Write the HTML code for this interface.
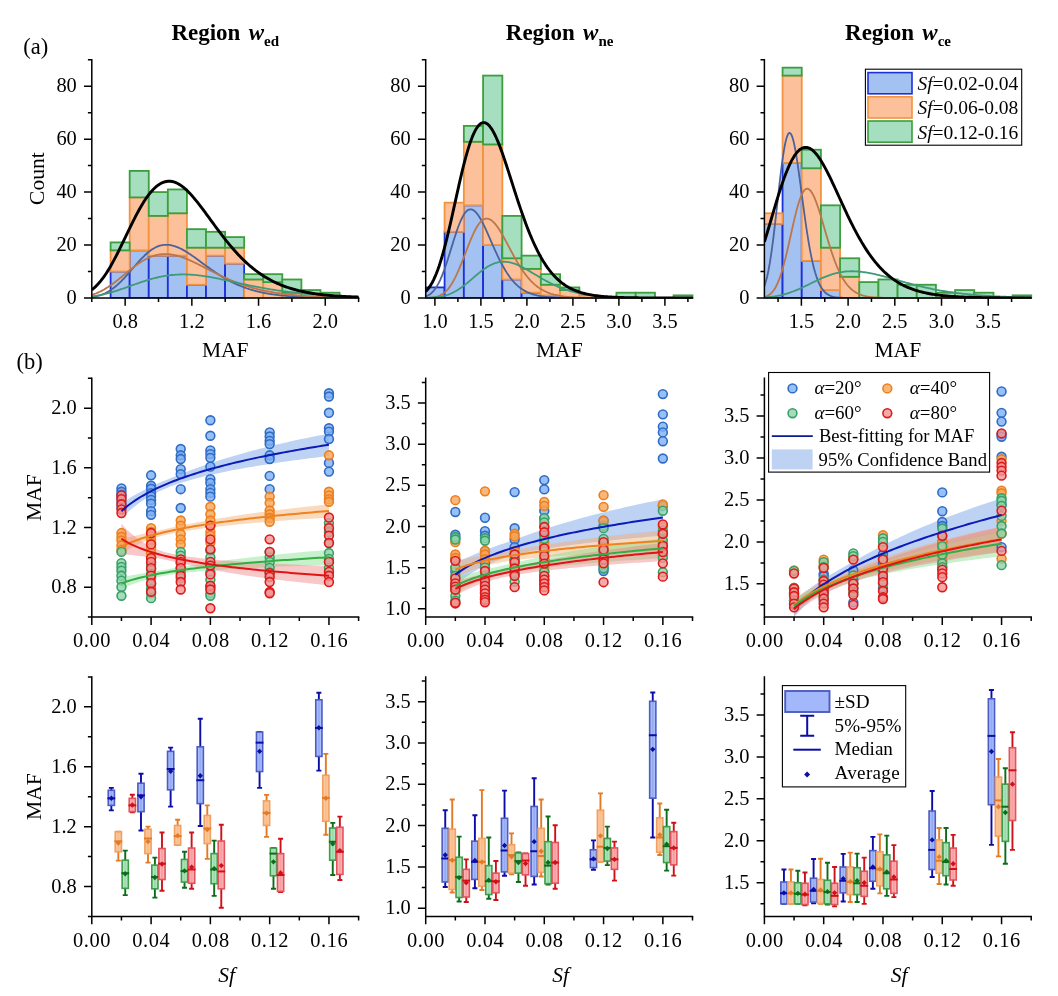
<!DOCTYPE html>
<html lang="en"><head><meta charset="utf-8"><title>MAF statistics by region</title>
<style>html,body{margin:0;padding:0;background:#fff}svg{display:block}text{font-family:"Liberation Serif", "Times New Roman", serif;fill:#000}.t{font-size:20.4px}.l{font-size:21.5px}.p{font-size:22.5px}.h{font-size:23px;font-weight:bold}</style></head><body>
<svg width="1058" height="996" viewBox="0 0 1058 996">
<rect width="1058" height="996" fill="#fff"/>
<clipPath id="c1"><rect x="91.8" y="54.7" width="267.8" height="243.9"/></clipPath>
<g clip-path="url(#c1)">
<rect x="110.6" y="271.52" width="19.08" height="26.48" fill="#a3c2f2" stroke="#1c30d8" stroke-width="1.8"/>
<rect x="129.68" y="250.34" width="19.08" height="47.66" fill="#a3c2f2" stroke="#1c30d8" stroke-width="1.8"/>
<rect x="148.76" y="255.64" width="19.08" height="42.36" fill="#a3c2f2" stroke="#1c30d8" stroke-width="1.8"/>
<rect x="167.84" y="255.64" width="19.08" height="42.36" fill="#a3c2f2" stroke="#1c30d8" stroke-width="1.8"/>
<rect x="186.92" y="284.76" width="19.08" height="13.24" fill="#a3c2f2" stroke="#1c30d8" stroke-width="1.8"/>
<rect x="206" y="255.64" width="19.08" height="42.36" fill="#a3c2f2" stroke="#1c30d8" stroke-width="1.8"/>
<rect x="225.08" y="263.58" width="19.08" height="34.42" fill="#a3c2f2" stroke="#1c30d8" stroke-width="1.8"/>
<rect x="110.6" y="250.34" width="19.08" height="21.18" fill="#fcc19b" stroke="#f29340" stroke-width="1.8"/>
<rect x="129.68" y="197.38" width="19.08" height="52.96" fill="#fcc19b" stroke="#f29340" stroke-width="1.8"/>
<rect x="148.76" y="215.92" width="19.08" height="39.72" fill="#fcc19b" stroke="#f29340" stroke-width="1.8"/>
<rect x="167.84" y="213.27" width="19.08" height="42.36" fill="#fcc19b" stroke="#f29340" stroke-width="1.8"/>
<rect x="186.92" y="247.69" width="19.08" height="37.07" fill="#fcc19b" stroke="#f29340" stroke-width="1.8"/>
<rect x="206" y="247.69" width="19.08" height="7.94" fill="#fcc19b" stroke="#f29340" stroke-width="1.8"/>
<rect x="225.08" y="247.69" width="19.08" height="15.89" fill="#fcc19b" stroke="#f29340" stroke-width="1.8"/>
<rect x="244.16" y="279.47" width="19.08" height="18.53" fill="#fcc19b" stroke="#f29340" stroke-width="1.8"/>
<rect x="263.24" y="282.11" width="19.08" height="15.89" fill="#fcc19b" stroke="#f29340" stroke-width="1.8"/>
<rect x="282.32" y="292.7" width="19.08" height="5.3" fill="#fcc19b" stroke="#f29340" stroke-width="1.8"/>
<rect x="110.6" y="242.4" width="19.08" height="7.94" fill="#a5dfbf" stroke="#3d9e3d" stroke-width="1.8"/>
<rect x="129.68" y="170.91" width="19.08" height="26.48" fill="#a5dfbf" stroke="#3d9e3d" stroke-width="1.8"/>
<rect x="148.76" y="192.09" width="19.08" height="23.83" fill="#a5dfbf" stroke="#3d9e3d" stroke-width="1.8"/>
<rect x="167.84" y="189.44" width="19.08" height="23.83" fill="#a5dfbf" stroke="#3d9e3d" stroke-width="1.8"/>
<rect x="186.92" y="229.16" width="19.08" height="18.53" fill="#a5dfbf" stroke="#3d9e3d" stroke-width="1.8"/>
<rect x="206" y="231.81" width="19.08" height="15.89" fill="#a5dfbf" stroke="#3d9e3d" stroke-width="1.8"/>
<rect x="225.08" y="237.1" width="19.08" height="10.59" fill="#a5dfbf" stroke="#3d9e3d" stroke-width="1.8"/>
<rect x="244.16" y="274.17" width="19.08" height="5.3" fill="#a5dfbf" stroke="#3d9e3d" stroke-width="1.8"/>
<rect x="263.24" y="274.17" width="19.08" height="7.94" fill="#a5dfbf" stroke="#3d9e3d" stroke-width="1.8"/>
<rect x="282.32" y="279.47" width="19.08" height="13.24" fill="#a5dfbf" stroke="#3d9e3d" stroke-width="1.8"/>
<rect x="301.4" y="290.06" width="19.08" height="7.94" fill="#a5dfbf" stroke="#3d9e3d" stroke-width="1.8"/>
<rect x="320.48" y="292.7" width="19.08" height="5.3" fill="#a5dfbf" stroke="#3d9e3d" stroke-width="1.8"/>
<path d="M91.8 297.04L93.13 296.84L94.47 296.61L95.8 296.34L97.14 296.04L98.47 295.69L99.8 295.3L101.14 294.85L102.47 294.36L103.81 293.82L105.14 293.22L106.47 292.56L107.81 291.84L109.14 291.06L110.48 290.21L111.81 289.31L113.14 288.34L114.48 287.3L115.81 286.21L117.15 285.06L118.48 283.85L119.81 282.59L121.15 281.27L122.48 279.91L123.82 278.51L125.15 277.06L126.48 275.59L127.82 274.09L129.15 272.57L130.49 271.03L131.82 269.48L133.15 267.93L134.49 266.39L135.82 264.86L137.16 263.35L138.49 261.86L139.82 260.4L141.16 258.98L142.49 257.6L143.83 256.27L145.16 255L146.49 253.78L147.83 252.63L149.16 251.55L150.5 250.54L151.83 249.6L153.16 248.74L154.5 247.97L155.83 247.27L157.17 246.66L158.5 246.14L159.83 245.7L161.17 245.35L162.5 245.08L163.84 244.9L165.17 244.8L166.5 244.78L167.84 244.84L169.17 244.97L170.51 245.17L171.84 245.43L173.17 245.76L174.51 246.15L175.84 246.6L177.18 247.1L178.51 247.66L179.84 248.27L181.18 248.92L182.51 249.62L183.85 250.35L185.18 251.13L186.51 251.94L187.85 252.77L189.18 253.64L190.52 254.53L191.85 255.44L193.18 256.37L194.52 257.31L195.85 258.27L197.19 259.24L198.52 260.22L199.85 261.2L201.19 262.18L202.52 263.17L203.86 264.15L205.19 265.14L206.52 266.11L207.86 267.08L209.19 268.04L210.53 268.99L211.86 269.93L213.19 270.86L214.53 271.78L215.86 272.68L217.2 273.56L218.53 274.43L219.86 275.28L221.2 276.11L222.53 276.92L223.87 277.72L225.2 278.5L226.53 279.25L227.87 279.99L229.2 280.71L230.54 281.4L231.87 282.08L233.2 282.74L234.54 283.37L235.87 283.99L237.21 284.59L238.54 285.17L239.87 285.73L241.21 286.26L242.54 286.78L243.88 287.29L245.21 287.77L246.54 288.24L247.88 288.68L249.21 289.12L250.55 289.53L251.88 289.93L253.21 290.31L254.55 290.68L255.88 291.03L257.22 291.37L258.55 291.69L259.88 292L261.22 292.3L262.55 292.58L263.89 292.85L265.22 293.11L266.55 293.36L267.89 293.59L269.22 293.82L270.56 294.03L271.89 294.24L273.22 294.43L274.56 294.62L275.89 294.8L277.23 294.97L278.56 295.13L279.89 295.28L281.23 295.42L282.56 295.56L283.9 295.69L285.23 295.82L286.56 295.94L287.9 296.05L289.23 296.16L290.57 296.26L291.9 296.35L293.23 296.45L294.57 296.53L295.9 296.61L297.24 296.69L298.57 296.77L299.9 296.83L301.24 296.9L302.57 296.96L303.91 297.02L305.24 297.08L306.57 297.13L307.91 297.18L309.24 297.23L310.58 297.27L311.91 297.31L313.24 297.35L314.58 297.39L315.91 297.43L317.25 297.46L318.58 297.49L319.91 297.52L321.25 297.55L322.58 297.58L323.92 297.6L325.25 297.63L326.58 297.65L327.92 297.67L329.25 297.69L330.59 297.71L331.92 297.72L333.25 297.74L334.59 297.76L335.92 297.77L337.26 297.78L338.59 297.8L339.92 297.81L341.26 297.82L342.59 297.83L343.93 297.84L345.26 297.85L346.59 297.86L347.93 297.87L349.26 297.88L350.6 297.89L351.93 297.89L353.26 297.9L354.6 297.91L355.93 297.91L357.27 297.92L358.6 297.92" fill="none" stroke="#4b6399" stroke-width="1.8" stroke-linejoin="round"/>
<path d="M91.8 294.85L93.13 294.43L94.47 293.97L95.8 293.48L97.14 292.94L98.47 292.37L99.8 291.75L101.14 291.1L102.47 290.4L103.81 289.67L105.14 288.89L106.47 288.08L107.81 287.24L109.14 286.35L110.48 285.44L111.81 284.49L113.14 283.52L114.48 282.52L115.81 281.49L117.15 280.45L118.48 279.39L119.81 278.31L121.15 277.22L122.48 276.13L123.82 275.03L125.15 273.92L126.48 272.83L127.82 271.73L129.15 270.65L130.49 269.58L131.82 268.52L133.15 267.49L134.49 266.47L135.82 265.49L137.16 264.53L138.49 263.6L139.82 262.7L141.16 261.84L142.49 261.02L143.83 260.24L145.16 259.5L146.49 258.81L147.83 258.16L149.16 257.55L150.5 256.99L151.83 256.48L153.16 256.02L154.5 255.6L155.83 255.24L157.17 254.92L158.5 254.66L159.83 254.44L161.17 254.27L162.5 254.15L163.84 254.08L165.17 254.05L166.5 254.06L167.84 254.13L169.17 254.23L170.51 254.38L171.84 254.57L173.17 254.8L174.51 255.06L175.84 255.37L177.18 255.7L178.51 256.07L179.84 256.48L181.18 256.91L182.51 257.37L183.85 257.85L185.18 258.37L186.51 258.9L187.85 259.45L189.18 260.03L190.52 260.62L191.85 261.23L193.18 261.85L194.52 262.48L195.85 263.13L197.19 263.79L198.52 264.45L199.85 265.12L201.19 265.8L202.52 266.48L203.86 267.17L205.19 267.85L206.52 268.54L207.86 269.23L209.19 269.91L210.53 270.6L211.86 271.28L213.19 271.96L214.53 272.63L215.86 273.29L217.2 273.95L218.53 274.61L219.86 275.25L221.2 275.89L222.53 276.52L223.87 277.14L225.2 277.75L226.53 278.35L227.87 278.94L229.2 279.52L230.54 280.09L231.87 280.65L233.2 281.19L234.54 281.73L235.87 282.25L237.21 282.76L238.54 283.26L239.87 283.75L241.21 284.23L242.54 284.7L243.88 285.15L245.21 285.59L246.54 286.02L247.88 286.44L249.21 286.85L250.55 287.25L251.88 287.63L253.21 288.01L254.55 288.37L255.88 288.72L257.22 289.06L258.55 289.39L259.88 289.72L261.22 290.03L262.55 290.33L263.89 290.62L265.22 290.9L266.55 291.18L267.89 291.44L269.22 291.7L270.56 291.94L271.89 292.18L273.22 292.41L274.56 292.63L275.89 292.85L277.23 293.05L278.56 293.25L279.89 293.45L281.23 293.63L282.56 293.81L283.9 293.98L285.23 294.15L286.56 294.31L287.9 294.46L289.23 294.61L290.57 294.75L291.9 294.89L293.23 295.02L294.57 295.14L295.9 295.26L297.24 295.38L298.57 295.49L299.9 295.6L301.24 295.7L302.57 295.8L303.91 295.9L305.24 295.99L306.57 296.08L307.91 296.16L309.24 296.24L310.58 296.32L311.91 296.39L313.24 296.46L314.58 296.53L315.91 296.6L317.25 296.66L318.58 296.72L319.91 296.77L321.25 296.83L322.58 296.88L323.92 296.93L325.25 296.98L326.58 297.03L327.92 297.07L329.25 297.11L330.59 297.15L331.92 297.19L333.25 297.23L334.59 297.26L335.92 297.3L337.26 297.33L338.59 297.36L339.92 297.39L341.26 297.42L342.59 297.44L343.93 297.47L345.26 297.49L346.59 297.52L347.93 297.54L349.26 297.56L350.6 297.58L351.93 297.6L353.26 297.62L354.6 297.64L355.93 297.65L357.27 297.67L358.6 297.69" fill="none" stroke="#bd7649" stroke-width="1.8" stroke-linejoin="round"/>
<path d="M91.8 296.42L93.13 296.23L94.47 296.04L95.8 295.83L97.14 295.6L98.47 295.36L99.8 295.11L101.14 294.84L102.47 294.56L103.81 294.26L105.14 293.95L106.47 293.62L107.81 293.28L109.14 292.93L110.48 292.56L111.81 292.18L113.14 291.79L114.48 291.38L115.81 290.97L117.15 290.54L118.48 290.11L119.81 289.67L121.15 289.22L122.48 288.76L123.82 288.29L125.15 287.83L126.48 287.35L127.82 286.88L129.15 286.4L130.49 285.92L131.82 285.44L133.15 284.96L134.49 284.48L135.82 284.01L137.16 283.54L138.49 283.07L139.82 282.61L141.16 282.16L142.49 281.71L143.83 281.28L145.16 280.85L146.49 280.43L147.83 280.02L149.16 279.62L150.5 279.23L151.83 278.86L153.16 278.5L154.5 278.15L155.83 277.82L157.17 277.5L158.5 277.19L159.83 276.91L161.17 276.63L162.5 276.37L163.84 276.13L165.17 275.91L166.5 275.7L167.84 275.5L169.17 275.33L170.51 275.16L171.84 275.02L173.17 274.89L174.51 274.78L175.84 274.68L177.18 274.6L178.51 274.54L179.84 274.49L181.18 274.46L182.51 274.44L183.85 274.44L185.18 274.45L186.51 274.48L187.85 274.52L189.18 274.58L190.52 274.65L191.85 274.74L193.18 274.84L194.52 274.95L195.85 275.08L197.19 275.22L198.52 275.37L199.85 275.53L201.19 275.7L202.52 275.89L203.86 276.08L205.19 276.28L206.52 276.49L207.86 276.71L209.19 276.94L210.53 277.18L211.86 277.42L213.19 277.67L214.53 277.92L215.86 278.18L217.2 278.44L218.53 278.71L219.86 278.99L221.2 279.26L222.53 279.54L223.87 279.82L225.2 280.11L226.53 280.4L227.87 280.69L229.2 280.98L230.54 281.27L231.87 281.56L233.2 281.85L234.54 282.15L235.87 282.44L237.21 282.73L238.54 283.02L239.87 283.31L241.21 283.6L242.54 283.89L243.88 284.17L245.21 284.46L246.54 284.74L247.88 285.02L249.21 285.3L250.55 285.57L251.88 285.84L253.21 286.11L254.55 286.38L255.88 286.64L257.22 286.9L258.55 287.16L259.88 287.41L261.22 287.66L262.55 287.91L263.89 288.15L265.22 288.39L266.55 288.63L267.89 288.86L269.22 289.08L270.56 289.31L271.89 289.53L273.22 289.74L274.56 289.95L275.89 290.16L277.23 290.37L278.56 290.57L279.89 290.76L281.23 290.96L282.56 291.14L283.9 291.33L285.23 291.51L286.56 291.69L287.9 291.86L289.23 292.03L290.57 292.19L291.9 292.36L293.23 292.51L294.57 292.67L295.9 292.82L297.24 292.97L298.57 293.11L299.9 293.25L301.24 293.39L302.57 293.52L303.91 293.65L305.24 293.78L306.57 293.9L307.91 294.03L309.24 294.14L310.58 294.26L311.91 294.37L313.24 294.48L314.58 294.59L315.91 294.69L317.25 294.79L318.58 294.89L319.91 294.98L321.25 295.07L322.58 295.16L323.92 295.25L325.25 295.34L326.58 295.42L327.92 295.5L329.25 295.58L330.59 295.65L331.92 295.73L333.25 295.8L334.59 295.87L335.92 295.94L337.26 296L338.59 296.07L339.92 296.13L341.26 296.19L342.59 296.25L343.93 296.3L345.26 296.36L346.59 296.41L347.93 296.46L349.26 296.51L350.6 296.56L351.93 296.61L353.26 296.65L354.6 296.7L355.93 296.74L357.27 296.78L358.6 296.82" fill="none" stroke="#3f9a7a" stroke-width="1.8" stroke-linejoin="round"/>
<path d="M91.8 289.79L93.13 288.74L94.47 287.59L95.8 286.35L97.14 285.01L98.47 283.58L99.8 282.05L101.14 280.42L102.47 278.7L103.81 276.88L105.14 274.96L106.47 272.96L107.81 270.86L109.14 268.68L110.48 266.41L111.81 264.07L113.14 261.66L114.48 259.17L115.81 256.63L117.15 254.03L118.48 251.38L119.81 248.69L121.15 245.96L122.48 243.21L123.82 240.44L125.15 237.66L126.48 234.87L127.82 232.09L129.15 229.33L130.49 226.58L131.82 223.86L133.15 221.18L134.49 218.54L135.82 215.95L137.16 213.41L138.49 210.94L139.82 208.54L141.16 206.22L142.49 203.98L143.83 201.82L145.16 199.76L146.49 197.79L147.83 195.92L149.16 194.16L150.5 192.5L151.83 190.95L153.16 189.51L154.5 188.19L155.83 186.98L157.17 185.89L158.5 184.91L159.83 184.05L161.17 183.3L162.5 182.68L163.84 182.16L165.17 181.76L166.5 181.48L167.84 181.3L169.17 181.23L170.51 181.28L171.84 181.44L173.17 181.72L174.51 182.11L175.84 182.62L177.18 183.22L178.51 183.93L179.84 184.73L181.18 185.63L182.51 186.61L183.85 187.68L185.18 188.83L186.51 190.05L187.85 191.34L189.18 192.7L190.52 194.11L191.85 195.59L193.18 197.11L194.52 198.69L195.85 200.3L197.19 201.96L198.52 203.65L199.85 205.37L201.19 207.12L202.52 208.89L203.86 210.68L205.19 212.48L206.52 214.3L207.86 216.12L209.19 217.95L210.53 219.78L211.86 221.61L213.19 223.44L214.53 225.26L215.86 227.08L217.2 228.88L218.53 230.67L219.86 232.45L221.2 234.21L222.53 235.95L223.87 237.67L225.2 239.37L226.53 241.04L227.87 242.7L229.2 244.32L230.54 245.92L231.87 247.5L233.2 249.04L234.54 250.56L235.87 252.04L237.21 253.5L238.54 254.93L239.87 256.32L241.21 257.69L242.54 259.02L243.88 260.32L245.21 261.6L246.54 262.84L247.88 264.04L249.21 265.22L250.55 266.37L251.88 267.48L253.21 268.57L254.55 269.62L255.88 270.65L257.22 271.64L258.55 272.61L259.88 273.55L261.22 274.46L262.55 275.34L263.89 276.19L265.22 277.02L266.55 277.82L267.89 278.6L269.22 279.34L270.56 280.07L271.89 280.77L273.22 281.45L274.56 282.1L275.89 282.73L277.23 283.34L278.56 283.93L279.89 284.5L281.23 285.05L282.56 285.57L283.9 286.08L285.23 286.57L286.56 287.04L287.9 287.5L289.23 287.93L290.57 288.36L291.9 288.76L293.23 289.15L294.57 289.52L295.9 289.88L297.24 290.23L298.57 290.56L299.9 290.88L301.24 291.19L302.57 291.48L303.91 291.76L305.24 292.04L306.57 292.3L307.91 292.55L309.24 292.79L310.58 293.02L311.91 293.24L313.24 293.45L314.58 293.65L315.91 293.84L317.25 294.03L318.58 294.21L319.91 294.38L321.25 294.54L322.58 294.7L323.92 294.84L325.25 294.99L326.58 295.12L327.92 295.26L329.25 295.38L330.59 295.5L331.92 295.61L333.25 295.72L334.59 295.83L335.92 295.93L337.26 296.02L338.59 296.12L339.92 296.2L341.26 296.29L342.59 296.37L343.93 296.44L345.26 296.52L346.59 296.58L347.93 296.65L349.26 296.71L350.6 296.77L351.93 296.83L353.26 296.89L354.6 296.94L355.93 296.99L357.27 297.04L358.6 297.08" fill="none" stroke="#000" stroke-width="2.9" stroke-linejoin="round"/>
</g>
<path d="M91.8 58.95V298H359.35" fill="none" stroke="#000" stroke-width="1.5" stroke-linecap="butt" stroke-linejoin="miter"/>
<path d="M125.15 298v7.8M191.85 298v7.8M258.55 298v7.8M325.25 298v7.8M91.8 298v3.9M158.5 298v3.9M225.2 298v3.9M291.9 298v3.9M358.6 298v3.9M91.8 298h-7.8M91.8 245.04h-7.8M91.8 192.09h-7.8M91.8 139.13h-7.8M91.8 86.18h-7.8M91.8 271.52h-3.9M91.8 218.57h-3.9M91.8 165.61h-3.9M91.8 112.66h-3.9M91.8 59.7h-3.9" fill="none" stroke="#000" stroke-width="1.5"/>
<text x="125.15" y="328.2" text-anchor="middle" class="t">0.8</text>
<text x="191.85" y="328.2" text-anchor="middle" class="t">1.2</text>
<text x="258.55" y="328.2" text-anchor="middle" class="t">1.6</text>
<text x="325.25" y="328.2" text-anchor="middle" class="t">2.0</text>
<text x="76.8" y="304.1" text-anchor="end" class="t">0</text>
<text x="76.8" y="251.14" text-anchor="end" class="t">20</text>
<text x="76.8" y="198.19" text-anchor="end" class="t">40</text>
<text x="76.8" y="145.23" text-anchor="end" class="t">60</text>
<text x="76.8" y="92.28" text-anchor="end" class="t">80</text>
<clipPath id="c2"><rect x="425.7" y="54.7" width="267.8" height="243.9"/></clipPath>
<g clip-path="url(#c2)">
<rect x="425.35" y="287.41" width="19.25" height="10.59" fill="#a3c2f2" stroke="#1c30d8" stroke-width="1.8"/>
<rect x="444.6" y="231.81" width="19.25" height="66.19" fill="#a3c2f2" stroke="#1c30d8" stroke-width="1.8"/>
<rect x="463.85" y="205.33" width="19.25" height="92.67" fill="#a3c2f2" stroke="#1c30d8" stroke-width="1.8"/>
<rect x="483.1" y="245.04" width="19.25" height="52.96" fill="#a3c2f2" stroke="#1c30d8" stroke-width="1.8"/>
<rect x="502.35" y="279.47" width="19.25" height="18.53" fill="#a3c2f2" stroke="#1c30d8" stroke-width="1.8"/>
<rect x="521.6" y="292.7" width="19.25" height="5.3" fill="#a3c2f2" stroke="#1c30d8" stroke-width="1.8"/>
<rect x="540.85" y="295.35" width="19.25" height="2.65" fill="#a3c2f2" stroke="#1c30d8" stroke-width="1.8"/>
<rect x="444.6" y="202.68" width="19.25" height="29.13" fill="#fcc19b" stroke="#f29340" stroke-width="1.8"/>
<rect x="463.85" y="141.78" width="19.25" height="63.55" fill="#fcc19b" stroke="#f29340" stroke-width="1.8"/>
<rect x="483.1" y="144.43" width="19.25" height="100.62" fill="#fcc19b" stroke="#f29340" stroke-width="1.8"/>
<rect x="502.35" y="258.28" width="19.25" height="21.18" fill="#fcc19b" stroke="#f29340" stroke-width="1.8"/>
<rect x="521.6" y="268.87" width="19.25" height="23.83" fill="#fcc19b" stroke="#f29340" stroke-width="1.8"/>
<rect x="540.85" y="284.76" width="19.25" height="10.59" fill="#fcc19b" stroke="#f29340" stroke-width="1.8"/>
<rect x="560.1" y="290.06" width="19.25" height="7.94" fill="#fcc19b" stroke="#f29340" stroke-width="1.8"/>
<rect x="579.35" y="295.35" width="19.25" height="2.65" fill="#fcc19b" stroke="#f29340" stroke-width="1.8"/>
<rect x="463.85" y="125.89" width="19.25" height="15.89" fill="#a5dfbf" stroke="#3d9e3d" stroke-width="1.8"/>
<rect x="483.1" y="75.59" width="19.25" height="68.84" fill="#a5dfbf" stroke="#3d9e3d" stroke-width="1.8"/>
<rect x="502.35" y="215.92" width="19.25" height="42.36" fill="#a5dfbf" stroke="#3d9e3d" stroke-width="1.8"/>
<rect x="521.6" y="255.64" width="19.25" height="13.24" fill="#a5dfbf" stroke="#3d9e3d" stroke-width="1.8"/>
<rect x="540.85" y="274.17" width="19.25" height="10.59" fill="#a5dfbf" stroke="#3d9e3d" stroke-width="1.8"/>
<rect x="560.1" y="287.41" width="19.25" height="2.65" fill="#a5dfbf" stroke="#3d9e3d" stroke-width="1.8"/>
<rect x="616.45" y="292.7" width="19.25" height="5.3" fill="#a5dfbf" stroke="#3d9e3d" stroke-width="1.8"/>
<rect x="635.7" y="292.7" width="19.25" height="5.3" fill="#a5dfbf" stroke="#3d9e3d" stroke-width="1.8"/>
<rect x="673.6" y="295.35" width="19.25" height="2.65" fill="#a5dfbf" stroke="#3d9e3d" stroke-width="1.8"/>
<path d="M425.7 296.45L427.03 295.92L428.37 295.26L429.7 294.43L431.04 293.42L432.37 292.2L433.7 290.76L435.04 289.06L436.37 287.1L437.71 284.87L439.04 282.35L440.37 279.55L441.71 276.46L443.04 273.11L444.38 269.52L445.71 265.7L447.04 261.69L448.38 257.53L449.71 253.27L451.05 248.95L452.38 244.62L453.71 240.34L455.05 236.16L456.38 232.14L457.72 228.32L459.05 224.75L460.38 221.48L461.72 218.55L463.05 215.98L464.39 213.81L465.72 212.06L467.05 210.73L468.39 209.83L469.72 209.37L471.06 209.33L472.39 209.68L473.72 210.4L475.06 211.46L476.39 212.84L477.73 214.52L479.06 216.48L480.39 218.67L481.73 221.07L483.06 223.65L484.4 226.38L485.73 229.23L487.06 232.17L488.4 235.18L489.73 238.22L491.07 241.28L492.4 244.32L493.73 247.35L495.07 250.32L496.4 253.24L497.74 256.08L499.07 258.83L500.4 261.49L501.74 264.04L503.07 266.49L504.41 268.82L505.74 271.04L507.07 273.14L508.41 275.12L509.74 276.98L511.08 278.73L512.41 280.36L513.74 281.89L515.08 283.3L516.41 284.62L517.75 285.84L519.08 286.96L520.41 288L521.75 288.95L523.08 289.83L524.42 290.63L525.75 291.36L527.08 292.03L528.42 292.63L529.75 293.18L531.09 293.68L532.42 294.14L533.75 294.55L535.09 294.92L536.42 295.25L537.76 295.55L539.09 295.82L540.42 296.06L541.76 296.28L543.09 296.47L544.43 296.65L545.76 296.8L547.09 296.94L548.43 297.06L549.76 297.17L551.1 297.27L552.43 297.36L553.76 297.43L555.1 297.5L556.43 297.56L557.77 297.61L559.1 297.66L560.43 297.7L561.77 297.74L563.1 297.77L564.44 297.8L565.77 297.83L567.1 297.85L568.44 297.87L569.77 297.88L571.11 297.9L572.44 297.91L573.77 297.92L575.11 297.93L576.44 297.94L577.78 297.95L579.11 297.96L580.44 297.96L581.78 297.97L583.11 297.97L584.45 297.97L585.78 297.98L587.11 297.98L588.45 297.98L589.78 297.99L591.12 297.99L592.45 297.99L593.78 297.99L595.12 297.99L596.45 297.99L597.79 297.99L599.12 297.99L600.45 298L601.79 298L603.12 298L604.46 298L605.79 298L607.12 298L608.46 298L609.79 298L611.13 298L612.46 298L613.79 298L615.13 298L616.46 298L617.8 298L619.13 298L620.46 298L621.8 298L623.13 298L624.47 298L625.8 298L627.13 298L628.47 298L629.8 298L631.14 298L632.47 298L633.8 298L635.14 298L636.47 298L637.81 298L639.14 298L640.47 298L641.81 298L643.14 298L644.48 298L645.81 298L647.14 298L648.48 298L649.81 298L651.15 298L652.48 298L653.81 298L655.15 298L656.48 298L657.82 298L659.15 298L660.48 298L661.82 298L663.15 298L664.49 298L665.82 298L667.15 298L668.49 298L669.82 298L671.16 298L672.49 298L673.82 298L675.16 298L676.49 298L677.83 298L679.16 298L680.49 298L681.83 298L683.16 298L684.5 298L685.83 298L687.16 298L688.5 298L689.83 298L691.17 298L692.5 298" fill="none" stroke="#4b6399" stroke-width="1.8" stroke-linejoin="round"/>
<path d="M425.7 297.91L427.03 297.87L428.37 297.81L429.7 297.72L431.04 297.61L432.37 297.47L433.7 297.27L435.04 297.03L436.37 296.71L437.71 296.32L439.04 295.83L440.37 295.24L441.71 294.52L443.04 293.67L444.38 292.66L445.71 291.49L447.04 290.14L448.38 288.6L449.71 286.86L451.05 284.92L452.38 282.78L453.71 280.43L455.05 277.88L456.38 275.14L457.72 272.23L459.05 269.16L460.38 265.95L461.72 262.63L463.05 259.22L464.39 255.76L465.72 252.28L467.05 248.82L468.39 245.4L469.72 242.06L471.06 238.84L472.39 235.77L473.72 232.88L475.06 230.2L476.39 227.75L477.73 225.56L479.06 223.65L480.39 222.03L481.73 220.72L483.06 219.71L484.4 219.02L485.73 218.65L487.06 218.58L488.4 218.8L489.73 219.3L491.07 220.07L492.4 221.09L493.73 222.35L495.07 223.82L496.4 225.49L497.74 227.33L499.07 229.33L500.4 231.46L501.74 233.7L503.07 236.04L504.41 238.45L505.74 240.92L507.07 243.42L508.41 245.93L509.74 248.45L511.08 250.96L512.41 253.44L513.74 255.88L515.08 258.28L516.41 260.62L517.75 262.89L519.08 265.09L520.41 267.21L521.75 269.25L523.08 271.21L524.42 273.08L525.75 274.85L527.08 276.54L528.42 278.14L529.75 279.65L531.09 281.07L532.42 282.41L533.75 283.66L535.09 284.83L536.42 285.93L537.76 286.95L539.09 287.89L540.42 288.77L541.76 289.59L543.09 290.34L544.43 291.03L545.76 291.67L547.09 292.26L548.43 292.79L549.76 293.29L551.1 293.74L552.43 294.15L553.76 294.53L555.1 294.87L556.43 295.18L557.77 295.47L559.1 295.72L560.43 295.96L561.77 296.17L563.1 296.36L564.44 296.53L565.77 296.69L567.1 296.83L568.44 296.95L569.77 297.06L571.11 297.17L572.44 297.26L573.77 297.34L575.11 297.41L576.44 297.48L577.78 297.54L579.11 297.59L580.44 297.63L581.78 297.68L583.11 297.71L584.45 297.75L585.78 297.78L587.11 297.8L588.45 297.82L589.78 297.85L591.12 297.86L592.45 297.88L593.78 297.89L595.12 297.91L596.45 297.92L597.79 297.93L599.12 297.94L600.45 297.94L601.79 297.95L603.12 297.96L604.46 297.96L605.79 297.97L607.12 297.97L608.46 297.97L609.79 297.98L611.13 297.98L612.46 297.98L613.79 297.98L615.13 297.99L616.46 297.99L617.8 297.99L619.13 297.99L620.46 297.99L621.8 297.99L623.13 297.99L624.47 297.99L625.8 298L627.13 298L628.47 298L629.8 298L631.14 298L632.47 298L633.8 298L635.14 298L636.47 298L637.81 298L639.14 298L640.47 298L641.81 298L643.14 298L644.48 298L645.81 298L647.14 298L648.48 298L649.81 298L651.15 298L652.48 298L653.81 298L655.15 298L656.48 298L657.82 298L659.15 298L660.48 298L661.82 298L663.15 298L664.49 298L665.82 298L667.15 298L668.49 298L669.82 298L671.16 298L672.49 298L673.82 298L675.16 298L676.49 298L677.83 298L679.16 298L680.49 298L681.83 298L683.16 298L684.5 298L685.83 298L687.16 298L688.5 298L689.83 298L691.17 298L692.5 298" fill="none" stroke="#bd7649" stroke-width="1.8" stroke-linejoin="round"/>
<path d="M425.7 297.89L427.03 297.86L428.37 297.81L429.7 297.76L431.04 297.69L432.37 297.61L433.7 297.51L435.04 297.4L436.37 297.26L437.71 297.09L439.04 296.9L440.37 296.68L441.71 296.42L443.04 296.13L444.38 295.8L445.71 295.42L447.04 295.01L448.38 294.55L449.71 294.04L451.05 293.48L452.38 292.87L453.71 292.21L455.05 291.5L456.38 290.74L457.72 289.93L459.05 289.07L460.38 288.17L461.72 287.22L463.05 286.24L464.39 285.21L465.72 284.16L467.05 283.08L468.39 281.97L469.72 280.84L471.06 279.7L472.39 278.56L473.72 277.41L475.06 276.27L476.39 275.14L477.73 274.02L479.06 272.92L480.39 271.86L481.73 270.82L483.06 269.82L484.4 268.87L485.73 267.96L487.06 267.1L488.4 266.3L489.73 265.56L491.07 264.87L492.4 264.25L493.73 263.7L495.07 263.21L496.4 262.79L497.74 262.45L499.07 262.17L500.4 261.95L501.74 261.81L503.07 261.74L504.41 261.73L505.74 261.79L507.07 261.92L508.41 262.11L509.74 262.36L511.08 262.67L512.41 263.03L513.74 263.45L515.08 263.92L516.41 264.43L517.75 264.99L519.08 265.58L520.41 266.21L521.75 266.87L523.08 267.56L524.42 268.28L525.75 269.01L527.08 269.77L528.42 270.54L529.75 271.32L531.09 272.11L532.42 272.9L533.75 273.7L535.09 274.5L536.42 275.3L537.76 276.1L539.09 276.89L540.42 277.67L541.76 278.44L543.09 279.2L544.43 279.95L545.76 280.69L547.09 281.41L548.43 282.12L549.76 282.8L551.1 283.48L552.43 284.13L553.76 284.77L555.1 285.38L556.43 285.98L557.77 286.56L559.1 287.11L560.43 287.65L561.77 288.17L563.1 288.67L564.44 289.15L565.77 289.61L567.1 290.06L568.44 290.48L569.77 290.89L571.11 291.28L572.44 291.65L573.77 292L575.11 292.34L576.44 292.66L577.78 292.97L579.11 293.26L580.44 293.54L581.78 293.8L583.11 294.05L584.45 294.29L585.78 294.51L587.11 294.72L588.45 294.92L589.78 295.11L591.12 295.29L592.45 295.46L593.78 295.62L595.12 295.77L596.45 295.92L597.79 296.05L599.12 296.18L600.45 296.29L601.79 296.41L603.12 296.51L604.46 296.61L605.79 296.7L607.12 296.79L608.46 296.87L609.79 296.95L611.13 297.02L612.46 297.08L613.79 297.15L615.13 297.21L616.46 297.26L617.8 297.31L619.13 297.36L620.46 297.4L621.8 297.45L623.13 297.48L624.47 297.52L625.8 297.56L627.13 297.59L628.47 297.62L629.8 297.64L631.14 297.67L632.47 297.69L633.8 297.72L635.14 297.74L636.47 297.76L637.81 297.77L639.14 297.79L640.47 297.81L641.81 297.82L643.14 297.83L644.48 297.85L645.81 297.86L647.14 297.87L648.48 297.88L649.81 297.89L651.15 297.89L652.48 297.9L653.81 297.91L655.15 297.92L656.48 297.92L657.82 297.93L659.15 297.93L660.48 297.94L661.82 297.94L663.15 297.95L664.49 297.95L665.82 297.96L667.15 297.96L668.49 297.96L669.82 297.97L671.16 297.97L672.49 297.97L673.82 297.97L675.16 297.97L676.49 297.98L677.83 297.98L679.16 297.98L680.49 297.98L681.83 297.98L683.16 297.98L684.5 297.99L685.83 297.99L687.16 297.99L688.5 297.99L689.83 297.99L691.17 297.99L692.5 297.99" fill="none" stroke="#3f9a7a" stroke-width="1.8" stroke-linejoin="round"/>
<path d="M425.7 291.54L427.03 290.15L428.37 288.54L429.7 286.69L431.04 284.6L432.37 282.25L433.7 279.61L435.04 276.7L436.37 273.49L437.71 269.99L439.04 266.2L440.37 262.12L441.71 257.75L443.04 253.11L444.38 248.22L445.71 243.09L447.04 237.73L448.38 232.19L449.71 226.48L451.05 220.64L452.38 214.7L453.71 208.68L455.05 202.64L456.38 196.6L457.72 190.59L459.05 184.67L460.38 178.85L461.72 173.18L463.05 167.69L464.39 162.41L465.72 157.38L467.05 152.61L468.39 148.14L469.72 143.98L471.06 140.16L472.39 136.69L473.72 133.59L475.06 130.86L476.39 128.52L477.73 126.57L479.06 125.01L480.39 123.84L481.73 123.05L483.06 122.65L484.4 122.62L485.73 122.98L487.06 123.71L488.4 124.81L489.73 126.26L491.07 128.03L492.4 130.11L493.73 132.48L495.07 135.12L496.4 138L497.74 141.1L499.07 144.41L500.4 147.89L501.74 151.53L503.07 155.31L504.41 159.2L505.74 163.19L507.07 167.25L508.41 171.37L509.74 175.53L511.08 179.71L512.41 183.89L513.74 188.07L515.08 192.23L516.41 196.35L517.75 200.43L519.08 204.45L520.41 208.41L521.75 212.29L523.08 216.1L524.42 219.81L525.75 223.44L527.08 226.96L528.42 230.39L529.75 233.71L531.09 236.92L532.42 240.03L533.75 243.03L535.09 245.91L536.42 248.69L537.76 251.35L539.09 253.91L540.42 256.36L541.76 258.71L543.09 260.95L544.43 263.08L545.76 265.12L547.09 267.06L548.43 268.91L549.76 270.66L551.1 272.32L552.43 273.9L553.76 275.4L555.1 276.81L556.43 278.15L557.77 279.41L559.1 280.61L560.43 281.73L561.77 282.8L563.1 283.79L564.44 284.74L565.77 285.62L567.1 286.45L568.44 287.23L569.77 287.96L571.11 288.65L572.44 289.3L573.77 289.9L575.11 290.46L576.44 290.99L577.78 291.48L579.11 291.95L580.44 292.38L581.78 292.78L583.11 293.15L584.45 293.5L585.78 293.83L587.11 294.13L588.45 294.42L589.78 294.68L591.12 294.93L592.45 295.15L593.78 295.36L595.12 295.56L596.45 295.74L597.79 295.91L599.12 296.07L600.45 296.22L601.79 296.35L603.12 296.48L604.46 296.59L605.79 296.7L607.12 296.8L608.46 296.89L609.79 296.98L611.13 297.06L612.46 297.13L613.79 297.2L615.13 297.26L616.46 297.32L617.8 297.37L619.13 297.42L620.46 297.47L621.8 297.51L623.13 297.55L624.47 297.58L625.8 297.62L627.13 297.65L628.47 297.68L629.8 297.7L631.14 297.73L632.47 297.75L633.8 297.77L635.14 297.79L636.47 297.8L637.81 297.82L639.14 297.83L640.47 297.85L641.81 297.86L643.14 297.87L644.48 297.88L645.81 297.89L647.14 297.9L648.48 297.91L649.81 297.92L651.15 297.92L652.48 297.93L653.81 297.94L655.15 297.94L656.48 297.95L657.82 297.95L659.15 297.95L660.48 297.96L661.82 297.96L663.15 297.96L664.49 297.97L665.82 297.97L667.15 297.97L668.49 297.97L669.82 297.98L671.16 297.98L672.49 297.98L673.82 297.98L675.16 297.98L676.49 297.99L677.83 297.99L679.16 297.99L680.49 297.99L681.83 297.99L683.16 297.99L684.5 297.99L685.83 297.99L687.16 297.99L688.5 297.99L689.83 297.99L691.17 297.99L692.5 297.99" fill="none" stroke="#000" stroke-width="2.9" stroke-linejoin="round"/>
</g>
<path d="M425.7 58.95V298H693.25" fill="none" stroke="#000" stroke-width="1.5" stroke-linecap="butt" stroke-linejoin="miter"/>
<path d="M434.9 298v7.8M480.9 298v7.8M526.9 298v7.8M572.9 298v7.8M618.9 298v7.8M664.9 298v7.8M457.9 298v3.9M503.9 298v3.9M549.9 298v3.9M595.9 298v3.9M641.9 298v3.9M687.9 298v3.9M425.7 298h-7.8M425.7 245.04h-7.8M425.7 192.09h-7.8M425.7 139.13h-7.8M425.7 86.18h-7.8M425.7 271.52h-3.9M425.7 218.57h-3.9M425.7 165.61h-3.9M425.7 112.66h-3.9M425.7 59.7h-3.9" fill="none" stroke="#000" stroke-width="1.5"/>
<text x="434.9" y="328.2" text-anchor="middle" class="t">1.0</text>
<text x="480.9" y="328.2" text-anchor="middle" class="t">1.5</text>
<text x="526.9" y="328.2" text-anchor="middle" class="t">2.0</text>
<text x="572.9" y="328.2" text-anchor="middle" class="t">2.5</text>
<text x="618.9" y="328.2" text-anchor="middle" class="t">3.0</text>
<text x="664.9" y="328.2" text-anchor="middle" class="t">3.5</text>
<text x="410.7" y="304.1" text-anchor="end" class="t">0</text>
<text x="410.7" y="251.14" text-anchor="end" class="t">20</text>
<text x="410.7" y="198.19" text-anchor="end" class="t">40</text>
<text x="410.7" y="145.23" text-anchor="end" class="t">60</text>
<text x="410.7" y="92.28" text-anchor="end" class="t">80</text>
<clipPath id="c3"><rect x="764.4" y="54.7" width="267.8" height="243.9"/></clipPath>
<g clip-path="url(#c3)">
<rect x="763.4" y="223.86" width="19.17" height="74.14" fill="#a3c2f2" stroke="#1c30d8" stroke-width="1.8"/>
<rect x="782.57" y="162.96" width="19.17" height="135.04" fill="#a3c2f2" stroke="#1c30d8" stroke-width="1.8"/>
<rect x="801.74" y="260.93" width="19.17" height="37.07" fill="#a3c2f2" stroke="#1c30d8" stroke-width="1.8"/>
<rect x="820.91" y="290.06" width="19.17" height="7.94" fill="#a3c2f2" stroke="#1c30d8" stroke-width="1.8"/>
<rect x="763.4" y="213.27" width="19.17" height="10.59" fill="#fcc19b" stroke="#f29340" stroke-width="1.8"/>
<rect x="782.57" y="75.59" width="19.17" height="87.38" fill="#fcc19b" stroke="#f29340" stroke-width="1.8"/>
<rect x="801.74" y="168.26" width="19.17" height="92.67" fill="#fcc19b" stroke="#f29340" stroke-width="1.8"/>
<rect x="820.91" y="247.69" width="19.17" height="42.36" fill="#fcc19b" stroke="#f29340" stroke-width="1.8"/>
<rect x="840.08" y="276.82" width="19.17" height="21.18" fill="#fcc19b" stroke="#f29340" stroke-width="1.8"/>
<rect x="782.57" y="67.64" width="19.17" height="7.94" fill="#a5dfbf" stroke="#3d9e3d" stroke-width="1.8"/>
<rect x="801.74" y="149.72" width="19.17" height="18.53" fill="#a5dfbf" stroke="#3d9e3d" stroke-width="1.8"/>
<rect x="820.91" y="205.33" width="19.17" height="42.36" fill="#a5dfbf" stroke="#3d9e3d" stroke-width="1.8"/>
<rect x="840.08" y="258.28" width="19.17" height="18.53" fill="#a5dfbf" stroke="#3d9e3d" stroke-width="1.8"/>
<rect x="859.25" y="282.11" width="19.17" height="15.89" fill="#a5dfbf" stroke="#3d9e3d" stroke-width="1.8"/>
<rect x="878.42" y="279.47" width="19.17" height="18.53" fill="#a5dfbf" stroke="#3d9e3d" stroke-width="1.8"/>
<rect x="897.59" y="284.76" width="19.17" height="13.24" fill="#a5dfbf" stroke="#3d9e3d" stroke-width="1.8"/>
<rect x="916.76" y="284.76" width="19.17" height="13.24" fill="#a5dfbf" stroke="#3d9e3d" stroke-width="1.8"/>
<rect x="935.93" y="292.7" width="19.17" height="5.3" fill="#a5dfbf" stroke="#3d9e3d" stroke-width="1.8"/>
<rect x="955.1" y="290.06" width="19.17" height="7.94" fill="#a5dfbf" stroke="#3d9e3d" stroke-width="1.8"/>
<rect x="974.27" y="292.7" width="19.17" height="5.3" fill="#a5dfbf" stroke="#3d9e3d" stroke-width="1.8"/>
<rect x="1012.61" y="295.35" width="19.17" height="2.65" fill="#a5dfbf" stroke="#3d9e3d" stroke-width="1.8"/>
<path d="M764.4 286.25L765.73 282.1L767.07 276.97L768.4 270.74L769.74 263.39L771.07 254.91L772.4 245.35L773.74 234.84L775.07 223.55L776.41 211.73L777.74 199.67L779.07 187.69L780.41 176.15L781.74 165.39L783.08 155.75L784.41 147.54L785.74 140.98L787.08 136.28L788.41 133.54L789.75 132.8L791.08 134.04L792.41 137.19L793.75 142.08L795.08 148.49L796.42 156.17L797.75 164.85L799.08 174.27L800.42 184.14L801.75 194.23L803.09 204.29L804.42 214.14L805.75 223.61L807.09 232.57L808.42 240.92L809.76 248.6L811.09 255.58L812.42 261.85L813.76 267.42L815.09 272.32L816.43 276.58L817.76 280.26L819.09 283.4L820.43 286.06L821.76 288.3L823.1 290.16L824.43 291.71L825.76 292.98L827.1 294.01L828.43 294.85L829.77 295.53L831.1 296.07L832.43 296.5L833.77 296.84L835.1 297.1L836.44 297.31L837.77 297.48L839.1 297.6L840.44 297.7L841.77 297.77L843.11 297.83L844.44 297.87L845.77 297.91L847.11 297.93L848.44 297.95L849.78 297.96L851.11 297.97L852.44 297.98L853.78 297.99L855.11 297.99L856.45 297.99L857.78 297.99L859.11 298L860.45 298L861.78 298L863.12 298L864.45 298L865.78 298L867.12 298L868.45 298L869.79 298L871.12 298L872.45 298L873.79 298L875.12 298L876.46 298L877.79 298L879.12 298L880.46 298L881.79 298L883.13 298L884.46 298L885.79 298L887.13 298L888.46 298L889.8 298L891.13 298L892.46 298L893.8 298L895.13 298L896.47 298L897.8 298L899.13 298L900.47 298L901.8 298L903.14 298L904.47 298L905.8 298L907.14 298L908.47 298L909.81 298L911.14 298L912.47 298L913.81 298L915.14 298L916.48 298L917.81 298L919.14 298L920.48 298L921.81 298L923.15 298L924.48 298L925.81 298L927.15 298L928.48 298L929.82 298L931.15 298L932.48 298L933.82 298L935.15 298L936.49 298L937.82 298L939.15 298L940.49 298L941.82 298L943.16 298L944.49 298L945.82 298L947.16 298L948.49 298L949.83 298L951.16 298L952.49 298L953.83 298L955.16 298L956.5 298L957.83 298L959.16 298L960.5 298L961.83 298L963.17 298L964.5 298L965.83 298L967.17 298L968.5 298L969.84 298L971.17 298L972.5 298L973.84 298L975.17 298L976.51 298L977.84 298L979.17 298L980.51 298L981.84 298L983.18 298L984.51 298L985.84 298L987.18 298L988.51 298L989.85 298L991.18 298L992.51 298L993.85 298L995.18 298L996.52 298L997.85 298L999.18 298L1000.52 298L1001.85 298L1003.19 298L1004.52 298L1005.85 298L1007.19 298L1008.52 298L1009.86 298L1011.19 298L1012.52 298L1013.86 298L1015.19 298L1016.53 298L1017.86 298L1019.19 298L1020.53 298L1021.86 298L1023.2 298L1024.53 298L1025.86 298L1027.2 298L1028.53 298L1029.87 298L1031.2 298" fill="none" stroke="#4b6399" stroke-width="1.8" stroke-linejoin="round"/>
<path d="M764.4 297.01L765.73 296.6L767.07 296.07L768.4 295.37L769.74 294.47L771.07 293.34L772.4 291.94L773.74 290.24L775.07 288.18L776.41 285.75L777.74 282.92L779.07 279.66L780.41 275.97L781.74 271.85L783.08 267.31L784.41 262.38L785.74 257.1L787.08 251.52L788.41 245.71L789.75 239.75L791.08 233.73L792.41 227.73L793.75 221.86L795.08 216.22L796.42 210.9L797.75 205.98L799.08 201.57L800.42 197.72L801.75 194.5L803.09 191.96L804.42 190.13L805.75 189.03L807.09 188.65L808.42 188.96L809.76 189.9L811.09 191.44L812.42 193.54L813.76 196.16L815.09 199.22L816.43 202.68L817.76 206.48L819.09 210.55L820.43 214.84L821.76 219.28L823.1 223.81L824.43 228.39L825.76 232.96L827.1 237.49L828.43 241.93L829.77 246.24L831.1 250.41L832.43 254.41L833.77 258.22L835.1 261.82L836.44 265.21L837.77 268.39L839.1 271.35L840.44 274.08L841.77 276.61L843.11 278.93L844.44 281.04L845.77 282.97L847.11 284.72L848.44 286.29L849.78 287.71L851.11 288.98L852.44 290.11L853.78 291.12L855.11 292.02L856.45 292.81L857.78 293.51L859.11 294.12L860.45 294.65L861.78 295.12L863.12 295.53L864.45 295.89L865.78 296.19L867.12 296.46L868.45 296.69L869.79 296.89L871.12 297.06L872.45 297.2L873.79 297.33L875.12 297.43L876.46 297.52L877.79 297.6L879.12 297.66L880.46 297.72L881.79 297.76L883.13 297.8L884.46 297.84L885.79 297.86L887.13 297.89L888.46 297.91L889.8 297.92L891.13 297.94L892.46 297.95L893.8 297.96L895.13 297.96L896.47 297.97L897.8 297.98L899.13 297.98L900.47 297.98L901.8 297.99L903.14 297.99L904.47 297.99L905.8 297.99L907.14 297.99L908.47 298L909.81 298L911.14 298L912.47 298L913.81 298L915.14 298L916.48 298L917.81 298L919.14 298L920.48 298L921.81 298L923.15 298L924.48 298L925.81 298L927.15 298L928.48 298L929.82 298L931.15 298L932.48 298L933.82 298L935.15 298L936.49 298L937.82 298L939.15 298L940.49 298L941.82 298L943.16 298L944.49 298L945.82 298L947.16 298L948.49 298L949.83 298L951.16 298L952.49 298L953.83 298L955.16 298L956.5 298L957.83 298L959.16 298L960.5 298L961.83 298L963.17 298L964.5 298L965.83 298L967.17 298L968.5 298L969.84 298L971.17 298L972.5 298L973.84 298L975.17 298L976.51 298L977.84 298L979.17 298L980.51 298L981.84 298L983.18 298L984.51 298L985.84 298L987.18 298L988.51 298L989.85 298L991.18 298L992.51 298L993.85 298L995.18 298L996.52 298L997.85 298L999.18 298L1000.52 298L1001.85 298L1003.19 298L1004.52 298L1005.85 298L1007.19 298L1008.52 298L1009.86 298L1011.19 298L1012.52 298L1013.86 298L1015.19 298L1016.53 298L1017.86 298L1019.19 298L1020.53 298L1021.86 298L1023.2 298L1024.53 298L1025.86 298L1027.2 298L1028.53 298L1029.87 298L1031.2 298" fill="none" stroke="#bd7649" stroke-width="1.8" stroke-linejoin="round"/>
<path d="M764.4 297.47L765.73 297.38L767.07 297.27L768.4 297.15L769.74 297.02L771.07 296.87L772.4 296.7L773.74 296.52L775.07 296.32L776.41 296.09L777.74 295.85L779.07 295.59L780.41 295.3L781.74 295L783.08 294.67L784.41 294.31L785.74 293.94L787.08 293.54L788.41 293.12L789.75 292.68L791.08 292.21L792.41 291.73L793.75 291.22L795.08 290.69L796.42 290.15L797.75 289.58L799.08 289L800.42 288.41L801.75 287.8L803.09 287.18L804.42 286.54L805.75 285.9L807.09 285.26L808.42 284.61L809.76 283.95L811.09 283.3L812.42 282.64L813.76 281.99L815.09 281.35L816.43 280.71L817.76 280.08L819.09 279.46L820.43 278.85L821.76 278.26L823.1 277.68L824.43 277.12L825.76 276.58L827.1 276.06L828.43 275.57L829.77 275.09L831.1 274.64L832.43 274.22L833.77 273.82L835.1 273.45L836.44 273.11L837.77 272.79L839.1 272.51L840.44 272.25L841.77 272.03L843.11 271.83L844.44 271.66L845.77 271.52L847.11 271.41L848.44 271.33L849.78 271.28L851.11 271.26L852.44 271.26L853.78 271.29L855.11 271.34L856.45 271.41L857.78 271.5L859.11 271.61L860.45 271.74L861.78 271.89L863.12 272.05L864.45 272.24L865.78 272.44L867.12 272.65L868.45 272.89L869.79 273.13L871.12 273.39L872.45 273.66L873.79 273.95L875.12 274.24L876.46 274.55L877.79 274.86L879.12 275.19L880.46 275.52L881.79 275.86L883.13 276.2L884.46 276.56L885.79 276.91L887.13 277.27L888.46 277.64L889.8 278.01L891.13 278.38L892.46 278.76L893.8 279.13L895.13 279.51L896.47 279.89L897.8 280.27L899.13 280.64L900.47 281.02L901.8 281.4L903.14 281.77L904.47 282.14L905.8 282.51L907.14 282.88L908.47 283.24L909.81 283.6L911.14 283.96L912.47 284.31L913.81 284.66L915.14 285L916.48 285.34L917.81 285.68L919.14 286.01L920.48 286.33L921.81 286.65L923.15 286.96L924.48 287.27L925.81 287.58L927.15 287.87L928.48 288.17L929.82 288.45L931.15 288.73L932.48 289.01L933.82 289.28L935.15 289.54L936.49 289.8L937.82 290.05L939.15 290.3L940.49 290.54L941.82 290.77L943.16 291L944.49 291.22L945.82 291.44L947.16 291.65L948.49 291.86L949.83 292.06L951.16 292.26L952.49 292.45L953.83 292.63L955.16 292.81L956.5 292.99L957.83 293.16L959.16 293.32L960.5 293.48L961.83 293.64L963.17 293.79L964.5 293.94L965.83 294.08L967.17 294.22L968.5 294.35L969.84 294.48L971.17 294.61L972.5 294.73L973.84 294.85L975.17 294.96L976.51 295.07L977.84 295.18L979.17 295.28L980.51 295.38L981.84 295.48L983.18 295.57L984.51 295.66L985.84 295.75L987.18 295.83L988.51 295.91L989.85 295.99L991.18 296.07L992.51 296.14L993.85 296.21L995.18 296.28L996.52 296.35L997.85 296.41L999.18 296.47L1000.52 296.53L1001.85 296.59L1003.19 296.64L1004.52 296.7L1005.85 296.75L1007.19 296.8L1008.52 296.84L1009.86 296.89L1011.19 296.93L1012.52 296.97L1013.86 297.02L1015.19 297.05L1016.53 297.09L1017.86 297.13L1019.19 297.16L1020.53 297.2L1021.86 297.23L1023.2 297.26L1024.53 297.29L1025.86 297.32L1027.2 297.35L1028.53 297.37L1029.87 297.4L1031.2 297.42" fill="none" stroke="#3f9a7a" stroke-width="1.8" stroke-linejoin="round"/>
<path d="M764.4 241.91L765.73 237.61L767.07 233.23L768.4 228.77L769.74 224.27L771.07 219.75L772.4 215.21L773.74 210.69L775.07 206.21L776.41 201.77L777.74 197.42L779.07 193.15L780.41 189L781.74 184.97L783.08 181.1L784.41 177.38L785.74 173.84L787.08 170.49L788.41 167.33L789.75 164.39L791.08 161.67L792.41 159.18L793.75 156.91L795.08 154.89L796.42 153.1L797.75 151.56L799.08 150.26L800.42 149.2L801.75 148.38L803.09 147.81L804.42 147.46L805.75 147.34L807.09 147.45L808.42 147.8L809.76 148.37L811.09 149.15L812.42 150.14L813.76 151.33L815.09 152.7L816.43 154.24L817.76 155.96L819.09 157.82L820.43 159.83L821.76 161.97L823.1 164.23L824.43 166.6L825.76 169.07L827.1 171.63L828.43 174.27L829.77 176.97L831.1 179.73L832.43 182.54L833.77 185.39L835.1 188.26L836.44 191.16L837.77 194.08L839.1 197L840.44 199.92L841.77 202.83L843.11 205.73L844.44 208.6L845.77 211.46L847.11 214.28L848.44 217.07L849.78 219.82L851.11 222.53L852.44 225.2L853.78 227.81L855.11 230.38L856.45 232.89L857.78 235.35L859.11 237.75L860.45 240.09L861.78 242.37L863.12 244.59L864.45 246.75L865.78 248.85L867.12 250.89L868.45 252.87L869.79 254.78L871.12 256.63L872.45 258.42L873.79 260.16L875.12 261.83L876.46 263.44L877.79 265L879.12 266.5L880.46 267.94L881.79 269.33L883.13 270.66L884.46 271.95L885.79 273.18L887.13 274.36L888.46 275.5L889.8 276.58L891.13 277.63L892.46 278.62L893.8 279.58L895.13 280.49L896.47 281.37L897.8 282.2L899.13 283L900.47 283.76L901.8 284.48L903.14 285.18L904.47 285.84L905.8 286.47L907.14 287.07L908.47 287.64L909.81 288.18L911.14 288.7L912.47 289.19L913.81 289.66L915.14 290.11L916.48 290.53L917.81 290.93L919.14 291.32L920.48 291.68L921.81 292.02L923.15 292.35L924.48 292.66L925.81 292.95L927.15 293.23L928.48 293.49L929.82 293.74L931.15 293.98L932.48 294.21L933.82 294.42L935.15 294.62L936.49 294.81L937.82 294.99L939.15 295.16L940.49 295.32L941.82 295.47L943.16 295.62L944.49 295.75L945.82 295.88L947.16 296L948.49 296.12L949.83 296.23L951.16 296.33L952.49 296.43L953.83 296.52L955.16 296.6L956.5 296.68L957.83 296.76L959.16 296.83L960.5 296.9L961.83 296.97L963.17 297.03L964.5 297.08L965.83 297.14L967.17 297.19L968.5 297.24L969.84 297.28L971.17 297.32L972.5 297.36L973.84 297.4L975.17 297.44L976.51 297.47L977.84 297.5L979.17 297.53L980.51 297.56L981.84 297.59L983.18 297.61L984.51 297.63L985.84 297.66L987.18 297.68L988.51 297.7L989.85 297.71L991.18 297.73L992.51 297.75L993.85 297.76L995.18 297.78L996.52 297.79L997.85 297.8L999.18 297.81L1000.52 297.83L1001.85 297.84L1003.19 297.85L1004.52 297.86L1005.85 297.86L1007.19 297.87L1008.52 297.88L1009.86 297.89L1011.19 297.89L1012.52 297.9L1013.86 297.91L1015.19 297.91L1016.53 297.92L1017.86 297.92L1019.19 297.93L1020.53 297.93L1021.86 297.94L1023.2 297.94L1024.53 297.94L1025.86 297.95L1027.2 297.95L1028.53 297.95L1029.87 297.96L1031.2 297.96" fill="none" stroke="#000" stroke-width="2.9" stroke-linejoin="round"/>
</g>
<path d="M764.4 58.95V298H1031.95" fill="none" stroke="#000" stroke-width="1.5" stroke-linecap="butt" stroke-linejoin="miter"/>
<path d="M801.39 298v7.8M848.1 298v7.8M894.81 298v7.8M941.52 298v7.8M988.23 298v7.8M778.04 298v3.9M824.75 298v3.9M871.46 298v3.9M918.16 298v3.9M964.87 298v3.9M1011.58 298v3.9M764.4 298h-7.8M764.4 245.04h-7.8M764.4 192.09h-7.8M764.4 139.13h-7.8M764.4 86.18h-7.8M764.4 271.52h-3.9M764.4 218.57h-3.9M764.4 165.61h-3.9M764.4 112.66h-3.9M764.4 59.7h-3.9" fill="none" stroke="#000" stroke-width="1.5"/>
<text x="801.39" y="328.2" text-anchor="middle" class="t">1.5</text>
<text x="848.1" y="328.2" text-anchor="middle" class="t">2.0</text>
<text x="894.81" y="328.2" text-anchor="middle" class="t">2.5</text>
<text x="941.52" y="328.2" text-anchor="middle" class="t">3.0</text>
<text x="988.23" y="328.2" text-anchor="middle" class="t">3.5</text>
<text x="749.4" y="304.1" text-anchor="end" class="t">0</text>
<text x="749.4" y="251.14" text-anchor="end" class="t">20</text>
<text x="749.4" y="198.19" text-anchor="end" class="t">40</text>
<text x="749.4" y="145.23" text-anchor="end" class="t">60</text>
<text x="749.4" y="92.28" text-anchor="end" class="t">80</text>
<rect x="865.4" y="69.2" width="156.3" height="76" fill="#fff" stroke="#000" stroke-width="1.1"/>
<rect x="868" y="72.6" width="44" height="21.2" fill="#a3c2f2" stroke="#1c30d8" stroke-width="1.6"/>
<text x="917.4" y="90.2" font-size="19.5px"><tspan font-style="italic">Sf</tspan>=0.02-0.04</text>
<rect x="868" y="96.8" width="44" height="21.2" fill="#fcc19b" stroke="#f29340" stroke-width="1.6"/>
<text x="917.4" y="114.4" font-size="19.5px"><tspan font-style="italic">Sf</tspan>=0.06-0.08</text>
<rect x="868" y="121" width="44" height="21.2" fill="#a5dfbf" stroke="#3d9e3d" stroke-width="1.6"/>
<text x="917.4" y="138.6" font-size="19.5px"><tspan font-style="italic">Sf</tspan>=0.12-0.16</text>
<text x="225.2" y="39.6" text-anchor="middle" class="h">Region <tspan font-style="italic" dx="2.5">w</tspan><tspan font-size="15px" dy="6.2">ed</tspan></text>
<text x="559.6" y="39.6" text-anchor="middle" class="h">Region <tspan font-style="italic" dx="2.5">w</tspan><tspan font-size="15px" dy="6.2">ne</tspan></text>
<text x="898" y="39.6" text-anchor="middle" class="h">Region <tspan font-style="italic" dx="2.5">w</tspan><tspan font-size="15px" dy="6.2">ce</tspan></text>
<text x="23.3" y="54" class="p">(a)</text>
<text x="16.6" y="369.2" class="p">(b)</text>
<text transform="translate(44.2 178.6) rotate(-90)" text-anchor="middle" class="l">Count</text>
<text x="225.2" y="357" text-anchor="middle" class="l">MAF</text>
<text x="226.5" y="981.6" text-anchor="middle" class="l" font-style="italic">Sf</text>
<text x="559.3" y="357" text-anchor="middle" class="l">MAF</text>
<text x="560.6" y="981.6" text-anchor="middle" class="l" font-style="italic">Sf</text>
<text x="897.8" y="357" text-anchor="middle" class="l">MAF</text>
<text x="899.1" y="981.6" text-anchor="middle" class="l" font-style="italic">Sf</text>
<text transform="translate(41.2 497.6) rotate(-90)" text-anchor="middle" class="l">MAF</text>
<text transform="translate(41.2 796.6) rotate(-90)" text-anchor="middle" class="l">MAF</text>
<g>
<path d="M121.44 503.71L124.9 501.25L128.36 498.96L131.82 496.82L135.28 494.8L138.74 492.88L142.2 491.05L145.65 489.3L149.11 487.61L152.57 485.98L156.03 484.39L159.49 482.85L162.95 481.35L166.41 479.89L169.86 478.46L173.32 477.05L176.78 475.65L180.24 474.27L183.7 472.92L187.16 471.58L190.61 470.27L194.07 468.98L197.53 467.72L200.99 466.48L204.45 465.27L207.91 464.08L211.37 462.91L214.82 461.77L218.28 460.65L221.74 459.56L225.2 458.48L228.66 457.43L232.12 456.39L235.58 455.38L239.03 454.39L242.49 453.41L245.95 452.45L249.41 451.51L252.87 450.58L256.33 449.68L259.79 448.78L263.24 447.91L266.7 447.04L270.16 446.19L273.62 445.36L277.08 444.54L280.54 443.73L283.99 442.93L287.45 442.14L290.91 441.37L294.37 440.61L297.83 439.86L301.29 439.12L304.75 438.39L308.2 437.67L311.66 436.96L315.12 436.26L318.58 435.57L322.04 434.89L325.5 434.21L328.96 433.55L328.96 455.93L325.5 456.35L322.04 456.77L318.58 457.2L315.12 457.63L311.66 458.07L308.2 458.52L304.75 458.97L301.29 459.43L297.83 459.89L294.37 460.36L290.91 460.84L287.45 461.32L283.99 461.82L280.54 462.32L277.08 462.83L273.62 463.34L270.16 463.87L266.7 464.41L263.24 464.95L259.79 465.51L256.33 466.07L252.87 466.65L249.41 467.24L245.95 467.84L242.49 468.45L239.03 469.08L235.58 469.72L232.12 470.37L228.66 471.04L225.2 471.73L221.74 472.44L218.28 473.17L214.82 473.92L211.37 474.69L207.91 475.48L204.45 476.3L200.99 477.15L197.53 478.04L194.07 478.96L190.61 479.92L187.16 480.92L183.7 481.98L180.24 483.09L176.78 484.26L173.32 485.51L169.86 486.84L166.41 488.25L162.95 489.75L159.49 491.34L156.03 493.03L152.57 494.83L149.11 496.75L145.65 498.8L142.2 501L138.74 503.36L135.28 505.91L131.82 508.68L128.36 511.69L124.9 514.99L121.44 518.64Z" fill="#6b98e6" fill-opacity="0.44"/>
<path d="M121.44 539.32L124.9 538.32L128.36 537.4L131.82 536.52L135.28 535.69L138.74 534.88L142.2 534.1L145.65 533.34L149.11 532.59L152.57 531.84L156.03 531.08L159.49 530.33L162.95 529.56L166.41 528.79L169.86 528.02L173.32 527.26L176.78 526.51L180.24 525.78L183.7 525.06L187.16 524.35L190.61 523.66L194.07 522.98L197.53 522.31L200.99 521.66L204.45 521.02L207.91 520.4L211.37 519.78L214.82 519.18L218.28 518.6L221.74 518.02L225.2 517.46L228.66 516.9L232.12 516.36L235.58 515.83L239.03 515.31L242.49 514.79L245.95 514.29L249.41 513.8L252.87 513.31L256.33 512.84L259.79 512.37L263.24 511.91L266.7 511.46L270.16 511.01L273.62 510.57L277.08 510.14L280.54 509.72L283.99 509.3L287.45 508.89L290.91 508.49L294.37 508.09L297.83 507.7L301.29 507.31L304.75 506.93L308.2 506.55L311.66 506.18L315.12 505.82L318.58 505.46L322.04 505.1L325.5 504.75L328.96 504.41L328.96 517.54L325.5 517.75L322.04 517.97L318.58 518.18L315.12 518.41L311.66 518.63L308.2 518.86L304.75 519.09L301.29 519.32L297.83 519.56L294.37 519.81L290.91 520.05L287.45 520.3L283.99 520.56L280.54 520.82L277.08 521.08L273.62 521.35L270.16 521.62L266.7 521.9L263.24 522.19L259.79 522.48L256.33 522.77L252.87 523.08L249.41 523.39L245.95 523.7L242.49 524.03L239.03 524.36L235.58 524.7L232.12 525.05L228.66 525.41L225.2 525.77L221.74 526.15L218.28 526.54L214.82 526.95L211.37 527.36L207.91 527.79L204.45 528.24L200.99 528.7L197.53 529.19L194.07 529.69L190.61 530.21L187.16 530.76L183.7 531.34L180.24 531.95L176.78 532.59L173.32 533.27L169.86 533.99L166.41 534.77L162.95 535.6L159.49 536.52L156.03 537.53L152.57 538.62L149.11 539.82L145.65 541.12L142.2 542.54L138.74 544.08L135.28 545.75L131.82 547.58L128.36 549.58L124.9 551.79L121.44 554.24Z" fill="#f7a968" fill-opacity="0.44"/>
<path d="M121.44 577.4L124.9 576.65L128.36 575.95L131.82 575.29L135.28 574.65L138.74 574.03L142.2 573.43L145.65 572.84L149.11 572.26L152.57 571.69L156.03 571.11L159.49 570.54L162.95 569.97L166.41 569.41L169.86 568.84L173.32 568.27L176.78 567.71L180.24 567.14L183.7 566.58L187.16 566.03L190.61 565.48L194.07 564.94L197.53 564.41L200.99 563.88L204.45 563.37L207.91 562.86L211.37 562.37L214.82 561.88L218.28 561.4L221.74 560.93L225.2 560.47L228.66 560.02L232.12 559.58L235.58 559.14L239.03 558.71L242.49 558.29L245.95 557.88L249.41 557.48L252.87 557.08L256.33 556.69L259.79 556.31L263.24 555.93L266.7 555.56L270.16 555.2L273.62 554.84L277.08 554.49L280.54 554.14L283.99 553.8L287.45 553.46L290.91 553.13L294.37 552.8L297.83 552.48L301.29 552.17L304.75 551.85L308.2 551.55L311.66 551.24L315.12 550.94L318.58 550.65L322.04 550.36L325.5 550.07L328.96 549.79L328.96 564.71L325.5 564.83L322.04 564.96L318.58 565.08L315.12 565.21L311.66 565.34L308.2 565.47L304.75 565.6L301.29 565.74L297.83 565.88L294.37 566.02L290.91 566.16L287.45 566.3L283.99 566.45L280.54 566.6L277.08 566.75L273.62 566.91L270.16 567.07L266.7 567.23L263.24 567.39L259.79 567.56L256.33 567.74L252.87 567.91L249.41 568.09L245.95 568.28L242.49 568.47L239.03 568.66L235.58 568.86L232.12 569.07L228.66 569.28L225.2 569.5L221.74 569.73L218.28 569.96L214.82 570.2L211.37 570.46L207.91 570.72L204.45 570.99L200.99 571.28L197.53 571.58L194.07 571.9L190.61 572.24L187.16 572.6L183.7 572.98L180.24 573.39L176.78 573.83L173.32 574.3L169.86 574.82L166.41 575.38L162.95 575.99L159.49 576.64L156.03 577.36L152.57 578.14L149.11 578.98L145.65 579.91L142.2 580.91L138.74 582.01L135.28 583.2L131.82 584.51L128.36 585.96L124.9 587.56L121.44 589.34Z" fill="#7fe08a" fill-opacity="0.44"/>
<path d="M121.44 523.73L124.9 527.57L128.36 530.99L131.82 534.06L135.28 536.84L138.74 539.36L142.2 541.67L145.65 543.77L149.11 545.69L152.57 547.42L156.03 548.97L159.49 550.33L162.95 551.49L166.41 552.47L169.86 553.29L173.32 554.02L176.78 554.7L180.24 555.32L183.7 555.89L187.16 556.42L190.61 556.91L194.07 557.37L197.53 557.8L200.99 558.21L204.45 558.59L207.91 558.95L211.37 559.3L214.82 559.62L218.28 559.93L221.74 560.23L225.2 560.52L228.66 560.79L232.12 561.05L235.58 561.31L239.03 561.55L242.49 561.79L245.95 562.01L249.41 562.23L252.87 562.45L256.33 562.65L259.79 562.85L263.24 563.05L266.7 563.24L270.16 563.42L273.62 563.6L277.08 563.77L280.54 563.94L283.99 564.11L287.45 564.27L290.91 564.43L294.37 564.58L297.83 564.73L301.29 564.88L304.75 565.02L308.2 565.16L311.66 565.3L315.12 565.43L318.58 565.56L322.04 565.69L325.5 565.82L328.96 565.94L328.96 585.35L325.5 585.01L322.04 584.67L318.58 584.32L315.12 583.97L311.66 583.61L308.2 583.24L304.75 582.87L301.29 582.5L297.83 582.11L294.37 581.72L290.91 581.33L287.45 580.92L283.99 580.51L280.54 580.09L277.08 579.66L273.62 579.23L270.16 578.79L266.7 578.33L263.24 577.87L259.79 577.4L256.33 576.92L252.87 576.43L249.41 575.93L245.95 575.42L242.49 574.9L239.03 574.37L235.58 573.82L232.12 573.26L228.66 572.69L225.2 572.11L221.74 571.51L218.28 570.9L214.82 570.27L211.37 569.63L207.91 568.97L204.45 568.3L200.99 567.61L197.53 566.91L194.07 566.19L190.61 565.45L187.16 564.7L183.7 563.94L180.24 563.16L176.78 562.37L173.32 561.57L169.86 560.76L166.41 559.95L162.95 559.21L159.49 558.57L156.03 558.02L152.57 557.53L149.11 557.09L145.65 556.69L142.2 556.3L138.74 555.91L135.28 555.51L131.82 555.1L128.36 554.64L124.9 554.14L121.44 553.58Z" fill="#f08080" fill-opacity="0.44"/>
<g fill="#7fb0f4" fill-opacity="0.8" stroke="#2f6cc4" stroke-width="1.6">
<circle cx="121.44" cy="488.45" r="4.4"/>
<circle cx="121.44" cy="491.73" r="4.4"/>
<circle cx="121.44" cy="494.72" r="4.4"/>
<circle cx="121.44" cy="497.7" r="4.4"/>
<circle cx="121.44" cy="502.18" r="4.4"/>
<circle cx="121.44" cy="506.66" r="4.4"/>
<circle cx="151.09" cy="475.31" r="4.4"/>
<circle cx="151.09" cy="485.76" r="4.4"/>
<circle cx="151.09" cy="488.75" r="4.4"/>
<circle cx="151.09" cy="493.22" r="4.4"/>
<circle cx="151.09" cy="496.21" r="4.4"/>
<circle cx="151.09" cy="499.94" r="4.4"/>
<circle cx="151.09" cy="503.67" r="4.4"/>
<circle cx="151.09" cy="511.13" r="4.4"/>
<circle cx="151.09" cy="514.86" r="4.4"/>
<circle cx="180.73" cy="449.04" r="4.4"/>
<circle cx="180.73" cy="455.31" r="4.4"/>
<circle cx="180.73" cy="459.04" r="4.4"/>
<circle cx="180.73" cy="469.19" r="4.4"/>
<circle cx="180.73" cy="474.12" r="4.4"/>
<circle cx="180.73" cy="489.19" r="4.4"/>
<circle cx="180.73" cy="508" r="4.4"/>
<circle cx="210.38" cy="420.24" r="4.4"/>
<circle cx="210.38" cy="435.76" r="4.4"/>
<circle cx="210.38" cy="450.39" r="4.4"/>
<circle cx="210.38" cy="454.12" r="4.4"/>
<circle cx="210.38" cy="457.85" r="4.4"/>
<circle cx="210.38" cy="466.66" r="4.4"/>
<circle cx="210.38" cy="479.19" r="4.4"/>
<circle cx="210.38" cy="482.92" r="4.4"/>
<circle cx="210.38" cy="489.19" r="4.4"/>
<circle cx="210.38" cy="492.92" r="4.4"/>
<circle cx="210.38" cy="496.66" r="4.4"/>
<circle cx="269.67" cy="432.33" r="4.4"/>
<circle cx="269.67" cy="436.51" r="4.4"/>
<circle cx="269.67" cy="440.84" r="4.4"/>
<circle cx="269.67" cy="444.12" r="4.4"/>
<circle cx="269.67" cy="455.31" r="4.4"/>
<circle cx="269.67" cy="459.04" r="4.4"/>
<circle cx="269.67" cy="475.91" r="4.4"/>
<circle cx="269.67" cy="489.19" r="4.4"/>
<circle cx="328.96" cy="393.23" r="4.4"/>
<circle cx="328.96" cy="396.51" r="4.4"/>
<circle cx="328.96" cy="412.78" r="4.4"/>
<circle cx="328.96" cy="428.3" r="4.4"/>
<circle cx="328.96" cy="431.58" r="4.4"/>
<circle cx="328.96" cy="439.04" r="4.4"/>
<circle cx="328.96" cy="462.92" r="4.4"/>
<circle cx="328.96" cy="471.58" r="4.4"/>
</g>
<g fill="#f8a558" fill-opacity="0.8" stroke="#ec7f1e" stroke-width="1.6">
<circle cx="121.44" cy="533.07" r="4.4"/>
<circle cx="121.44" cy="536.8" r="4.4"/>
<circle cx="121.44" cy="540.53" r="4.4"/>
<circle cx="121.44" cy="545.46" r="4.4"/>
<circle cx="121.44" cy="549.94" r="4.4"/>
<circle cx="151.09" cy="528.15" r="4.4"/>
<circle cx="151.09" cy="531.88" r="4.4"/>
<circle cx="151.09" cy="535.61" r="4.4"/>
<circle cx="151.09" cy="539.49" r="4.4"/>
<circle cx="151.09" cy="543.07" r="4.4"/>
<circle cx="151.09" cy="548.15" r="4.4"/>
<circle cx="151.09" cy="552.92" r="4.4"/>
<circle cx="151.09" cy="557.4" r="4.4"/>
<circle cx="180.73" cy="520.54" r="4.4"/>
<circle cx="180.73" cy="525.61" r="4.4"/>
<circle cx="180.73" cy="534.27" r="4.4"/>
<circle cx="180.73" cy="539.34" r="4.4"/>
<circle cx="180.73" cy="544.42" r="4.4"/>
<circle cx="210.38" cy="506.8" r="4.4"/>
<circle cx="210.38" cy="514.27" r="4.4"/>
<circle cx="210.38" cy="520.54" r="4.4"/>
<circle cx="210.38" cy="525.61" r="4.4"/>
<circle cx="210.38" cy="531.88" r="4.4"/>
<circle cx="210.38" cy="535.61" r="4.4"/>
<circle cx="210.38" cy="542.48" r="4.4"/>
<circle cx="269.67" cy="496.66" r="4.4"/>
<circle cx="269.67" cy="502.92" r="4.4"/>
<circle cx="269.67" cy="510.54" r="4.4"/>
<circle cx="269.67" cy="514.27" r="4.4"/>
<circle cx="269.67" cy="518" r="4.4"/>
<circle cx="269.67" cy="521.73" r="4.4"/>
<circle cx="328.96" cy="455.31" r="4.4"/>
<circle cx="328.96" cy="491.73" r="4.4"/>
<circle cx="328.96" cy="495.46" r="4.4"/>
<circle cx="328.96" cy="499.19" r="4.4"/>
<circle cx="328.96" cy="501.73" r="4.4"/>
</g>
<g fill="#8fd4aa" fill-opacity="0.8" stroke="#37a069" stroke-width="1.6">
<circle cx="121.44" cy="551.88" r="4.4"/>
<circle cx="121.44" cy="563.22" r="4.4"/>
<circle cx="121.44" cy="566.95" r="4.4"/>
<circle cx="121.44" cy="570.68" r="4.4"/>
<circle cx="121.44" cy="575.76" r="4.4"/>
<circle cx="121.44" cy="580.68" r="4.4"/>
<circle cx="121.44" cy="586.95" r="4.4"/>
<circle cx="121.44" cy="595.76" r="4.4"/>
<circle cx="151.09" cy="564.86" r="4.4"/>
<circle cx="151.09" cy="569.34" r="4.4"/>
<circle cx="151.09" cy="573.82" r="4.4"/>
<circle cx="151.09" cy="578.3" r="4.4"/>
<circle cx="151.09" cy="584.26" r="4.4"/>
<circle cx="151.09" cy="588.74" r="4.4"/>
<circle cx="151.09" cy="593.22" r="4.4"/>
<circle cx="151.09" cy="598.15" r="4.4"/>
<circle cx="180.73" cy="551.88" r="4.4"/>
<circle cx="180.73" cy="555.61" r="4.4"/>
<circle cx="180.73" cy="563.37" r="4.4"/>
<circle cx="180.73" cy="567.85" r="4.4"/>
<circle cx="180.73" cy="572.33" r="4.4"/>
<circle cx="180.73" cy="578.3" r="4.4"/>
<circle cx="210.38" cy="550.68" r="4.4"/>
<circle cx="210.38" cy="557.4" r="4.4"/>
<circle cx="210.38" cy="564.86" r="4.4"/>
<circle cx="210.38" cy="572.33" r="4.4"/>
<circle cx="210.38" cy="579.79" r="4.4"/>
<circle cx="210.38" cy="587.25" r="4.4"/>
<circle cx="210.38" cy="593.22" r="4.4"/>
<circle cx="210.38" cy="595.76" r="4.4"/>
<circle cx="269.67" cy="551.88" r="4.4"/>
<circle cx="269.67" cy="557.4" r="4.4"/>
<circle cx="269.67" cy="561.88" r="4.4"/>
<circle cx="269.67" cy="567.85" r="4.4"/>
<circle cx="269.67" cy="572.33" r="4.4"/>
<circle cx="328.96" cy="523.07" r="4.4"/>
<circle cx="328.96" cy="532.03" r="4.4"/>
<circle cx="328.96" cy="542.48" r="4.4"/>
<circle cx="328.96" cy="553.07" r="4.4"/>
<circle cx="328.96" cy="558.89" r="4.4"/>
<circle cx="328.96" cy="561.88" r="4.4"/>
<circle cx="328.96" cy="567.85" r="4.4"/>
</g>
<g fill="#f39393" fill-opacity="0.8" stroke="#dd1a1a" stroke-width="1.6">
<circle cx="121.44" cy="495.46" r="4.4"/>
<circle cx="121.44" cy="499.19" r="4.4"/>
<circle cx="121.44" cy="504.27" r="4.4"/>
<circle cx="121.44" cy="509.34" r="4.4"/>
<circle cx="121.44" cy="513.07" r="4.4"/>
<circle cx="151.09" cy="533.07" r="4.4"/>
<circle cx="151.09" cy="544.42" r="4.4"/>
<circle cx="151.09" cy="558.15" r="4.4"/>
<circle cx="151.09" cy="561.88" r="4.4"/>
<circle cx="151.09" cy="568.15" r="4.4"/>
<circle cx="151.09" cy="575.61" r="4.4"/>
<circle cx="151.09" cy="583.22" r="4.4"/>
<circle cx="151.09" cy="591.73" r="4.4"/>
<circle cx="180.73" cy="559.34" r="4.4"/>
<circle cx="180.73" cy="561.88" r="4.4"/>
<circle cx="180.73" cy="568.15" r="4.4"/>
<circle cx="180.73" cy="575.76" r="4.4"/>
<circle cx="180.73" cy="582.03" r="4.4"/>
<circle cx="180.73" cy="589.49" r="4.4"/>
<circle cx="210.38" cy="525.61" r="4.4"/>
<circle cx="210.38" cy="539.34" r="4.4"/>
<circle cx="210.38" cy="549.34" r="4.4"/>
<circle cx="210.38" cy="561.88" r="4.4"/>
<circle cx="210.38" cy="565.61" r="4.4"/>
<circle cx="210.38" cy="574.41" r="4.4"/>
<circle cx="210.38" cy="585.76" r="4.4"/>
<circle cx="210.38" cy="589.49" r="4.4"/>
<circle cx="210.38" cy="608.29" r="4.4"/>
<circle cx="269.67" cy="539.34" r="4.4"/>
<circle cx="269.67" cy="551.88" r="4.4"/>
<circle cx="269.67" cy="573.22" r="4.4"/>
<circle cx="269.67" cy="576.95" r="4.4"/>
<circle cx="269.67" cy="582.03" r="4.4"/>
<circle cx="269.67" cy="592.03" r="4.4"/>
<circle cx="269.67" cy="593.22" r="4.4"/>
<circle cx="328.96" cy="517.55" r="4.4"/>
<circle cx="328.96" cy="528" r="4.4"/>
<circle cx="328.96" cy="535.61" r="4.4"/>
<circle cx="328.96" cy="543.07" r="4.4"/>
<circle cx="328.96" cy="561.88" r="4.4"/>
<circle cx="328.96" cy="571.88" r="4.4"/>
<circle cx="328.96" cy="575.76" r="4.4"/>
<circle cx="328.96" cy="582.03" r="4.4"/>
</g>
<path d="M121.44 511.18L124.9 508.12L128.36 505.32L131.82 502.75L135.28 500.35L138.74 498.12L142.2 496.02L145.65 494.05L149.11 492.18L152.57 490.4L156.03 488.71L159.49 487.1L162.95 485.55L166.41 484.07L169.86 482.65L173.32 481.28L176.78 479.96L180.24 478.68L183.7 477.45L187.16 476.25L190.61 475.09L194.07 473.97L197.53 472.88L200.99 471.82L204.45 470.79L207.91 469.78L211.37 468.8L214.82 467.84L218.28 466.91L221.74 466L225.2 465.11L228.66 464.24L232.12 463.38L235.58 462.55L239.03 461.73L242.49 460.93L245.95 460.14L249.41 459.37L252.87 458.62L256.33 457.87L259.79 457.14L263.24 456.43L266.7 455.72L270.16 455.03L273.62 454.35L277.08 453.68L280.54 453.02L283.99 452.37L287.45 451.73L290.91 451.11L294.37 450.49L297.83 449.87L301.29 449.27L304.75 448.68L308.2 448.09L311.66 447.52L315.12 446.95L318.58 446.38L322.04 445.83L325.5 445.28L328.96 444.74" fill="none" stroke="#0c1ab8" stroke-width="2"/>
<path d="M121.44 546.78L124.9 545.06L128.36 543.49L131.82 542.05L135.28 540.72L138.74 539.48L142.2 538.32L145.65 537.23L149.11 536.2L152.57 535.23L156.03 534.3L159.49 533.42L162.95 532.58L166.41 531.78L169.86 531.01L173.32 530.26L176.78 529.55L180.24 528.86L183.7 528.2L187.16 527.56L190.61 526.94L194.07 526.33L197.53 525.75L200.99 525.18L204.45 524.63L207.91 524.1L211.37 523.57L214.82 523.07L218.28 522.57L221.74 522.09L225.2 521.62L228.66 521.15L232.12 520.7L235.58 520.26L239.03 519.83L242.49 519.41L245.95 519L249.41 518.59L252.87 518.19L256.33 517.8L259.79 517.42L263.24 517.05L266.7 516.68L270.16 516.32L273.62 515.96L277.08 515.61L280.54 515.27L283.99 514.93L287.45 514.6L290.91 514.27L294.37 513.95L297.83 513.63L301.29 513.32L304.75 513.01L308.2 512.71L311.66 512.41L315.12 512.11L318.58 511.82L322.04 511.53L325.5 511.25L328.96 510.97" fill="none" stroke="#ee8420" stroke-width="2"/>
<path d="M121.44 583.37L124.9 582.1L128.36 580.95L131.82 579.9L135.28 578.93L138.74 578.02L142.2 577.17L145.65 576.37L149.11 575.62L152.57 574.91L156.03 574.24L159.49 573.59L162.95 572.98L166.41 572.39L169.86 571.83L173.32 571.29L176.78 570.77L180.24 570.26L183.7 569.78L187.16 569.31L190.61 568.86L194.07 568.42L197.53 568L200.99 567.58L204.45 567.18L207.91 566.79L211.37 566.41L214.82 566.04L218.28 565.68L221.74 565.33L225.2 564.99L228.66 564.65L232.12 564.32L235.58 564L239.03 563.69L242.49 563.38L245.95 563.08L249.41 562.79L252.87 562.5L256.33 562.21L259.79 561.94L263.24 561.66L266.7 561.4L270.16 561.13L273.62 560.87L277.08 560.62L280.54 560.37L283.99 560.12L287.45 559.88L290.91 559.64L294.37 559.41L297.83 559.18L301.29 558.95L304.75 558.73L308.2 558.51L311.66 558.29L315.12 558.08L318.58 557.87L322.04 557.66L325.5 557.45L328.96 557.25" fill="none" stroke="#33ad44" stroke-width="2"/>
<path d="M121.44 538.65L124.9 540.86L128.36 542.81L131.82 544.58L135.28 546.18L138.74 547.64L142.2 548.98L145.65 550.23L149.11 551.39L152.57 552.47L156.03 553.49L159.49 554.45L162.95 555.35L166.41 556.21L169.86 557.02L173.32 557.8L176.78 558.54L180.24 559.24L183.7 559.92L187.16 560.56L190.61 561.18L194.07 561.78L197.53 562.36L200.99 562.91L204.45 563.45L207.91 563.96L211.37 564.46L214.82 564.95L218.28 565.42L221.74 565.87L225.2 566.31L228.66 566.74L232.12 567.16L235.58 567.56L239.03 567.96L242.49 568.34L245.95 568.72L249.41 569.08L252.87 569.44L256.33 569.79L259.79 570.13L263.24 570.46L266.7 570.79L270.16 571.1L273.62 571.41L277.08 571.72L280.54 572.02L283.99 572.31L287.45 572.6L290.91 572.88L294.37 573.15L297.83 573.42L301.29 573.69L304.75 573.95L308.2 574.2L311.66 574.45L315.12 574.7L318.58 574.94L322.04 575.18L325.5 575.41L328.96 575.64" fill="none" stroke="#e01414" stroke-width="2"/>
</g>
<path d="M91.8 377.55V617.1H359.35" fill="none" stroke="#000" stroke-width="1.5" stroke-linecap="butt" stroke-linejoin="miter"/>
<path d="M91.8 617.1v7.8M151.09 617.1v7.8M210.38 617.1v7.8M269.67 617.1v7.8M328.96 617.1v7.8M121.44 617.1v3.9M180.73 617.1v3.9M240.02 617.1v3.9M299.31 617.1v3.9M358.6 617.1v3.9M91.8 587.25h-7.8M91.8 527.55h-7.8M91.8 467.85h-7.8M91.8 408.15h-7.8M91.8 617.1h-3.9M91.8 557.4h-3.9M91.8 497.7h-3.9M91.8 438h-3.9M91.8 378.3h-3.9" fill="none" stroke="#000" stroke-width="1.5"/>
<text x="92.1" y="647.3" text-anchor="middle" class="t" letter-spacing="0.6">0.00</text>
<text x="151.39" y="647.3" text-anchor="middle" class="t" letter-spacing="0.6">0.04</text>
<text x="210.68" y="647.3" text-anchor="middle" class="t" letter-spacing="0.6">0.08</text>
<text x="269.97" y="647.3" text-anchor="middle" class="t" letter-spacing="0.6">0.12</text>
<text x="329.26" y="647.3" text-anchor="middle" class="t" letter-spacing="0.6">0.16</text>
<text x="76.8" y="593.35" text-anchor="end" class="t">0.8</text>
<text x="76.8" y="533.65" text-anchor="end" class="t">1.2</text>
<text x="76.8" y="473.95" text-anchor="end" class="t">1.6</text>
<text x="76.8" y="414.25" text-anchor="end" class="t">2.0</text>
<g>
<path d="M455.34 563.07L458.8 561.35L462.26 559.71L465.72 558.15L469.18 556.64L472.64 555.18L476.1 553.75L479.55 552.37L483.01 551.01L486.47 549.68L489.93 548.38L493.39 547.1L496.85 545.84L500.31 544.6L503.76 543.38L507.22 542.14L510.68 540.9L514.14 539.66L517.6 538.42L521.06 537.19L524.51 535.96L527.97 534.75L531.43 533.55L534.89 532.36L538.35 531.2L541.81 530.05L545.27 528.91L548.72 527.8L552.18 526.7L555.64 525.62L559.1 524.56L562.56 523.51L566.02 522.49L569.48 521.48L572.93 520.49L576.39 519.51L579.85 518.55L583.31 517.61L586.77 516.68L590.23 515.76L593.69 514.86L597.14 513.97L600.6 513.1L604.06 512.24L607.52 511.39L610.98 510.56L614.44 509.74L617.89 508.93L621.35 508.13L624.81 507.34L628.27 506.56L631.73 505.8L635.19 505.04L638.65 504.29L642.1 503.56L645.56 502.83L649.02 502.11L652.48 501.4L655.94 500.7L659.4 500.01L662.86 499.33L662.86 535.56L659.4 535.86L655.94 536.15L652.48 536.46L649.02 536.76L645.56 537.07L642.1 537.38L638.65 537.7L635.19 538.02L631.73 538.35L628.27 538.68L624.81 539.01L621.35 539.35L617.89 539.7L614.44 540.05L610.98 540.4L607.52 540.76L604.06 541.13L600.6 541.5L597.14 541.88L593.69 542.27L590.23 542.67L586.77 543.07L583.31 543.48L579.85 543.9L576.39 544.33L572.93 544.77L569.48 545.22L566.02 545.68L562.56 546.15L559.1 546.64L555.64 547.15L552.18 547.66L548.72 548.2L545.27 548.76L541.81 549.33L538.35 549.94L534.89 550.56L531.43 551.22L527.97 551.92L524.51 552.65L521.06 553.42L517.6 554.25L514.14 555.13L510.68 556.08L507.22 557.11L503.76 558.22L500.31 559.43L496.85 560.71L493.39 562.08L489.93 563.53L486.47 565.08L483.01 566.74L479.55 568.53L476.1 570.45L472.64 572.53L469.18 574.78L465.72 577.23L462.26 579.91L458.8 582.86L455.34 586.12Z" fill="#6b98e6" fill-opacity="0.44"/>
<path d="M455.34 560.52L458.8 559.87L462.26 559.25L465.72 558.64L469.18 558.04L472.64 557.44L476.1 556.85L479.55 556.26L483.01 555.66L486.47 555.06L489.93 554.45L493.39 553.83L496.85 553.22L500.31 552.59L503.76 551.97L507.22 551.34L510.68 550.72L514.14 550.1L517.6 549.49L521.06 548.88L524.51 548.27L527.97 547.67L531.43 547.08L534.89 546.5L538.35 545.93L541.81 545.37L545.27 544.81L548.72 544.27L552.18 543.73L555.64 543.2L559.1 542.68L562.56 542.17L566.02 541.67L569.48 541.18L572.93 540.7L576.39 540.22L579.85 539.75L583.31 539.29L586.77 538.84L590.23 538.4L593.69 537.96L597.14 537.53L600.6 537.1L604.06 536.69L607.52 536.28L610.98 535.87L614.44 535.47L617.89 535.08L621.35 534.69L624.81 534.31L628.27 533.94L631.73 533.57L635.19 533.2L638.65 532.84L642.1 532.49L645.56 532.14L649.02 531.79L652.48 531.45L655.94 531.11L659.4 530.78L662.86 530.45L662.86 551.04L659.4 551.16L655.94 551.29L652.48 551.42L649.02 551.55L645.56 551.68L642.1 551.81L638.65 551.95L635.19 552.09L631.73 552.23L628.27 552.37L624.81 552.52L621.35 552.67L617.89 552.82L614.44 552.97L610.98 553.13L607.52 553.29L604.06 553.45L600.6 553.62L597.14 553.79L593.69 553.97L590.23 554.15L586.77 554.33L583.31 554.52L579.85 554.71L576.39 554.91L572.93 555.12L569.48 555.33L566.02 555.55L562.56 555.78L559.1 556.01L555.64 556.25L552.18 556.51L548.72 556.77L545.27 557.04L541.81 557.33L538.35 557.63L534.89 557.95L531.43 558.28L527.97 558.63L524.51 559L521.06 559.4L517.6 559.82L514.14 560.28L510.68 560.77L507.22 561.29L503.76 561.86L500.31 562.48L496.85 563.15L493.39 563.89L489.93 564.69L486.47 565.57L483.01 566.53L479.55 567.58L476.1 568.74L472.64 570.01L469.18 571.4L465.72 572.94L462.26 574.64L458.8 576.52L455.34 578.64Z" fill="#f7a968" fill-opacity="0.44"/>
<path d="M455.34 577.67L458.8 576.61L462.26 575.6L465.72 574.64L469.18 573.71L472.64 572.81L476.1 571.93L479.55 571.07L483.01 570.22L486.47 569.38L489.93 568.54L493.39 567.72L496.85 566.9L500.31 566.08L503.76 565.27L507.22 564.47L510.68 563.67L514.14 562.88L517.6 562.1L521.06 561.32L524.51 560.56L527.97 559.81L531.43 559.07L534.89 558.34L538.35 557.63L541.81 556.92L545.27 556.23L548.72 555.55L552.18 554.88L555.64 554.23L559.1 553.58L562.56 552.95L566.02 552.33L569.48 551.72L572.93 551.12L576.39 550.53L579.85 549.95L583.31 549.38L586.77 548.82L590.23 548.26L593.69 547.72L597.14 547.19L600.6 546.66L604.06 546.14L607.52 545.63L610.98 545.13L614.44 544.64L617.89 544.15L621.35 543.67L624.81 543.2L628.27 542.73L631.73 542.27L635.19 541.82L638.65 541.37L642.1 540.93L645.56 540.49L649.02 540.06L652.48 539.64L655.94 539.22L659.4 538.81L662.86 538.4L662.86 558.16L659.4 558.37L655.94 558.58L652.48 558.79L649.02 559.01L645.56 559.23L642.1 559.45L638.65 559.67L635.19 559.9L631.73 560.13L628.27 560.37L624.81 560.61L621.35 560.85L617.89 561.1L614.44 561.35L610.98 561.61L607.52 561.87L604.06 562.13L600.6 562.4L597.14 562.68L593.69 562.96L590.23 563.24L586.77 563.53L583.31 563.83L579.85 564.14L576.39 564.45L572.93 564.77L569.48 565.1L566.02 565.44L562.56 565.78L559.1 566.14L555.64 566.51L552.18 566.89L548.72 567.28L545.27 567.69L541.81 568.11L538.35 568.54L534.89 569L531.43 569.47L527.97 569.97L524.51 570.49L521.06 571.04L517.6 571.62L514.14 572.24L510.68 572.89L507.22 573.59L503.76 574.34L500.31 575.14L496.85 576L493.39 576.93L489.93 577.92L486.47 579L483.01 580.16L479.55 581.43L476.1 582.79L472.64 584.28L469.18 585.9L465.72 587.67L462.26 589.61L458.8 591.75L455.34 594.14Z" fill="#7fe08a" fill-opacity="0.44"/>
<path d="M455.34 581.52L458.8 580.43L462.26 579.39L465.72 578.41L469.18 577.46L472.64 576.55L476.1 575.66L479.55 574.79L483.01 573.93L486.47 573.09L489.93 572.26L493.39 571.44L496.85 570.63L500.31 569.83L503.76 569.04L507.22 568.25L510.68 567.47L514.14 566.7L517.6 565.94L521.06 565.19L524.51 564.45L527.97 563.71L531.43 563L534.89 562.29L538.35 561.59L541.81 560.91L545.27 560.24L548.72 559.58L552.18 558.93L555.64 558.3L559.1 557.68L562.56 557.06L566.02 556.46L569.48 555.87L572.93 555.29L576.39 554.72L579.85 554.15L583.31 553.6L586.77 553.06L590.23 552.53L593.69 552L597.14 551.48L600.6 550.98L604.06 550.48L607.52 549.98L610.98 549.5L614.44 549.02L617.89 548.55L621.35 548.08L624.81 547.63L628.27 547.18L631.73 546.73L635.19 546.29L638.65 545.86L642.1 545.43L645.56 545.01L649.02 544.6L652.48 544.19L655.94 543.78L659.4 543.38L662.86 542.99L662.86 561.1L659.4 561.31L655.94 561.53L652.48 561.74L649.02 561.96L645.56 562.18L642.1 562.4L638.65 562.63L635.19 562.86L631.73 563.1L628.27 563.34L624.81 563.58L621.35 563.82L617.89 564.07L614.44 564.33L610.98 564.58L607.52 564.85L604.06 565.11L600.6 565.39L597.14 565.66L593.69 565.95L590.23 566.23L586.77 566.53L583.31 566.83L579.85 567.14L576.39 567.45L572.93 567.77L569.48 568.1L566.02 568.44L562.56 568.79L559.1 569.15L555.64 569.52L552.18 569.9L548.72 570.29L545.27 570.69L541.81 571.11L538.35 571.55L534.89 572L531.43 572.48L527.97 572.97L524.51 573.49L521.06 574.03L517.6 574.61L514.14 575.22L510.68 575.86L507.22 576.55L503.76 577.28L500.31 578.07L496.85 578.91L493.39 579.81L489.93 580.78L486.47 581.83L483.01 582.95L479.55 584.17L476.1 585.48L472.64 586.91L469.18 588.47L465.72 590.16L462.26 592.02L458.8 594.07L455.34 596.34Z" fill="#f08080" fill-opacity="0.44"/>
<g fill="#7fb0f4" fill-opacity="0.8" stroke="#2f6cc4" stroke-width="1.6">
<circle cx="455.34" cy="511.95" r="4.4"/>
<circle cx="455.34" cy="534.76" r="4.4"/>
<circle cx="455.34" cy="538.3" r="4.4"/>
<circle cx="455.34" cy="559.46" r="4.4"/>
<circle cx="455.34" cy="571.81" r="4.4"/>
<circle cx="455.34" cy="584.16" r="4.4"/>
<circle cx="484.99" cy="517.71" r="4.4"/>
<circle cx="484.99" cy="531.21" r="4.4"/>
<circle cx="484.99" cy="535.74" r="4.4"/>
<circle cx="484.99" cy="551.22" r="4.4"/>
<circle cx="484.99" cy="563.58" r="4.4"/>
<circle cx="484.99" cy="575.93" r="4.4"/>
<circle cx="514.63" cy="492.1" r="4.4"/>
<circle cx="514.63" cy="528.25" r="4.4"/>
<circle cx="514.63" cy="539.53" r="4.4"/>
<circle cx="514.63" cy="547.11" r="4.4"/>
<circle cx="514.63" cy="559.46" r="4.4"/>
<circle cx="514.63" cy="571.81" r="4.4"/>
<circle cx="544.28" cy="480.08" r="4.4"/>
<circle cx="544.28" cy="489.38" r="4.4"/>
<circle cx="544.28" cy="510.88" r="4.4"/>
<circle cx="544.28" cy="518.29" r="4.4"/>
<circle cx="544.28" cy="534.76" r="4.4"/>
<circle cx="544.28" cy="547.11" r="4.4"/>
<circle cx="544.28" cy="559.46" r="4.4"/>
<circle cx="544.28" cy="571.81" r="4.4"/>
<circle cx="544.28" cy="580.04" r="4.4"/>
<circle cx="603.57" cy="520.76" r="4.4"/>
<circle cx="603.57" cy="525.7" r="4.4"/>
<circle cx="603.57" cy="542.99" r="4.4"/>
<circle cx="603.57" cy="555.34" r="4.4"/>
<circle cx="603.57" cy="567.69" r="4.4"/>
<circle cx="603.57" cy="570.99" r="4.4"/>
<circle cx="662.86" cy="394.11" r="4.4"/>
<circle cx="662.86" cy="414.37" r="4.4"/>
<circle cx="662.86" cy="426.64" r="4.4"/>
<circle cx="662.86" cy="432.4" r="4.4"/>
<circle cx="662.86" cy="441.21" r="4.4"/>
<circle cx="662.86" cy="458.5" r="4.4"/>
<circle cx="662.86" cy="505.93" r="4.4"/>
<circle cx="662.86" cy="534.76" r="4.4"/>
</g>
<g fill="#f8a558" fill-opacity="0.8" stroke="#ec7f1e" stroke-width="1.6">
<circle cx="455.34" cy="500.17" r="4.4"/>
<circle cx="455.34" cy="542.17" r="4.4"/>
<circle cx="455.34" cy="554.52" r="4.4"/>
<circle cx="455.34" cy="557.81" r="4.4"/>
<circle cx="455.34" cy="567.69" r="4.4"/>
<circle cx="455.34" cy="580.04" r="4.4"/>
<circle cx="455.34" cy="590.75" r="4.4"/>
<circle cx="484.99" cy="491.36" r="4.4"/>
<circle cx="484.99" cy="550.81" r="4.4"/>
<circle cx="484.99" cy="554.52" r="4.4"/>
<circle cx="484.99" cy="559.46" r="4.4"/>
<circle cx="484.99" cy="567.69" r="4.4"/>
<circle cx="484.99" cy="580.04" r="4.4"/>
<circle cx="484.99" cy="588.28" r="4.4"/>
<circle cx="514.63" cy="533.77" r="4.4"/>
<circle cx="514.63" cy="536.4" r="4.4"/>
<circle cx="514.63" cy="551.22" r="4.4"/>
<circle cx="514.63" cy="555.34" r="4.4"/>
<circle cx="514.63" cy="563.58" r="4.4"/>
<circle cx="514.63" cy="571.81" r="4.4"/>
<circle cx="544.28" cy="501.9" r="4.4"/>
<circle cx="544.28" cy="505.93" r="4.4"/>
<circle cx="544.28" cy="526.52" r="4.4"/>
<circle cx="544.28" cy="542.99" r="4.4"/>
<circle cx="544.28" cy="551.22" r="4.4"/>
<circle cx="544.28" cy="559.46" r="4.4"/>
<circle cx="544.28" cy="567.69" r="4.4"/>
<circle cx="544.28" cy="575.93" r="4.4"/>
<circle cx="603.57" cy="495.15" r="4.4"/>
<circle cx="603.57" cy="506.92" r="4.4"/>
<circle cx="603.57" cy="520.76" r="4.4"/>
<circle cx="603.57" cy="542.17" r="4.4"/>
<circle cx="603.57" cy="547.11" r="4.4"/>
<circle cx="603.57" cy="559.46" r="4.4"/>
<circle cx="603.57" cy="561.11" r="4.4"/>
<circle cx="662.86" cy="504.45" r="4.4"/>
<circle cx="662.86" cy="526.52" r="4.4"/>
<circle cx="662.86" cy="534.76" r="4.4"/>
<circle cx="662.86" cy="542.99" r="4.4"/>
<circle cx="662.86" cy="551.22" r="4.4"/>
<circle cx="662.86" cy="555.34" r="4.4"/>
</g>
<g fill="#8fd4aa" fill-opacity="0.8" stroke="#37a069" stroke-width="1.6">
<circle cx="455.34" cy="536.98" r="4.4"/>
<circle cx="455.34" cy="539.53" r="4.4"/>
<circle cx="455.34" cy="567.69" r="4.4"/>
<circle cx="455.34" cy="575.93" r="4.4"/>
<circle cx="455.34" cy="584.16" r="4.4"/>
<circle cx="455.34" cy="588.28" r="4.4"/>
<circle cx="455.34" cy="595.94" r="4.4"/>
<circle cx="455.34" cy="600.63" r="4.4"/>
<circle cx="484.99" cy="538.3" r="4.4"/>
<circle cx="484.99" cy="540.77" r="4.4"/>
<circle cx="484.99" cy="567.69" r="4.4"/>
<circle cx="484.99" cy="575.93" r="4.4"/>
<circle cx="484.99" cy="584.16" r="4.4"/>
<circle cx="484.99" cy="592.4" r="4.4"/>
<circle cx="484.99" cy="598.98" r="4.4"/>
<circle cx="514.63" cy="554.52" r="4.4"/>
<circle cx="514.63" cy="559.46" r="4.4"/>
<circle cx="514.63" cy="567.69" r="4.4"/>
<circle cx="514.63" cy="574.28" r="4.4"/>
<circle cx="514.63" cy="581.69" r="4.4"/>
<circle cx="544.28" cy="518.2" r="4.4"/>
<circle cx="544.28" cy="522.4" r="4.4"/>
<circle cx="544.28" cy="538.87" r="4.4"/>
<circle cx="544.28" cy="551.22" r="4.4"/>
<circle cx="544.28" cy="563.58" r="4.4"/>
<circle cx="544.28" cy="571.81" r="4.4"/>
<circle cx="544.28" cy="584.16" r="4.4"/>
<circle cx="603.57" cy="528.17" r="4.4"/>
<circle cx="603.57" cy="538.87" r="4.4"/>
<circle cx="603.57" cy="551.22" r="4.4"/>
<circle cx="603.57" cy="559.46" r="4.4"/>
<circle cx="603.57" cy="565.22" r="4.4"/>
<circle cx="603.57" cy="568.52" r="4.4"/>
<circle cx="662.86" cy="510.71" r="4.4"/>
<circle cx="662.86" cy="530.64" r="4.4"/>
<circle cx="662.86" cy="540.52" r="4.4"/>
<circle cx="662.86" cy="547.11" r="4.4"/>
<circle cx="662.86" cy="557.81" r="4.4"/>
<circle cx="662.86" cy="572.14" r="4.4"/>
</g>
<g fill="#f39393" fill-opacity="0.8" stroke="#dd1a1a" stroke-width="1.6">
<circle cx="455.34" cy="560.86" r="4.4"/>
<circle cx="455.34" cy="578.4" r="4.4"/>
<circle cx="455.34" cy="583.34" r="4.4"/>
<circle cx="455.34" cy="586.63" r="4.4"/>
<circle cx="455.34" cy="589.68" r="4.4"/>
<circle cx="455.34" cy="603.43" r="4.4"/>
<circle cx="455.34" cy="602.69" r="4.4"/>
<circle cx="484.99" cy="570.99" r="4.4"/>
<circle cx="484.99" cy="580.87" r="4.4"/>
<circle cx="484.99" cy="585.89" r="4.4"/>
<circle cx="484.99" cy="589.68" r="4.4"/>
<circle cx="484.99" cy="593.47" r="4.4"/>
<circle cx="484.99" cy="597.17" r="4.4"/>
<circle cx="484.99" cy="599.73" r="4.4"/>
<circle cx="484.99" cy="602.2" r="4.4"/>
<circle cx="514.63" cy="554.52" r="4.4"/>
<circle cx="514.63" cy="562.09" r="4.4"/>
<circle cx="514.63" cy="568.52" r="4.4"/>
<circle cx="514.63" cy="575.93" r="4.4"/>
<circle cx="514.63" cy="587.13" r="4.4"/>
<circle cx="544.28" cy="527.01" r="4.4"/>
<circle cx="544.28" cy="532.28" r="4.4"/>
<circle cx="544.28" cy="548.34" r="4.4"/>
<circle cx="544.28" cy="555.84" r="4.4"/>
<circle cx="544.28" cy="563.58" r="4.4"/>
<circle cx="544.28" cy="575.93" r="4.4"/>
<circle cx="544.28" cy="579.63" r="4.4"/>
<circle cx="544.28" cy="583.42" r="4.4"/>
<circle cx="544.28" cy="587.13" r="4.4"/>
<circle cx="544.28" cy="590.42" r="4.4"/>
<circle cx="603.57" cy="542.17" r="4.4"/>
<circle cx="603.57" cy="549.58" r="4.4"/>
<circle cx="603.57" cy="559.46" r="4.4"/>
<circle cx="603.57" cy="563.33" r="4.4"/>
<circle cx="603.57" cy="582.19" r="4.4"/>
<circle cx="662.86" cy="524.46" r="4.4"/>
<circle cx="662.86" cy="533.77" r="4.4"/>
<circle cx="662.86" cy="545.79" r="4.4"/>
<circle cx="662.86" cy="552.05" r="4.4"/>
<circle cx="662.86" cy="563.33" r="4.4"/>
<circle cx="662.86" cy="576.67" r="4.4"/>
</g>
<path d="M455.34 574.6L458.8 572.1L462.26 569.81L465.72 567.69L469.18 565.71L472.64 563.85L476.1 562.1L479.55 560.45L483.01 558.88L486.47 557.38L489.93 555.95L493.39 554.59L496.85 553.28L500.31 552.01L503.76 550.8L507.22 549.63L510.68 548.49L514.14 547.4L517.6 546.34L521.06 545.31L524.51 544.3L527.97 543.33L531.43 542.39L534.89 541.46L538.35 540.57L541.81 539.69L545.27 538.83L548.72 538L552.18 537.18L555.64 536.38L559.1 535.6L562.56 534.83L566.02 534.08L569.48 533.35L572.93 532.63L576.39 531.92L579.85 531.23L583.31 530.54L586.77 529.87L590.23 529.21L593.69 528.57L597.14 527.93L600.6 527.3L604.06 526.69L607.52 526.08L610.98 525.48L614.44 524.89L617.89 524.31L621.35 523.74L624.81 523.18L628.27 522.62L631.73 522.07L635.19 521.53L638.65 521L642.1 520.47L645.56 519.95L649.02 519.44L652.48 518.93L655.94 518.43L659.4 517.93L662.86 517.45" fill="none" stroke="#0c1ab8" stroke-width="2"/>
<path d="M455.34 569.58L458.8 568.2L462.26 566.94L465.72 565.79L469.18 564.72L472.64 563.73L476.1 562.79L479.55 561.92L483.01 561.09L486.47 560.31L489.93 559.57L493.39 558.86L496.85 558.18L500.31 557.54L503.76 556.91L507.22 556.32L510.68 555.74L514.14 555.19L517.6 554.65L521.06 554.14L524.51 553.64L527.97 553.15L531.43 552.68L534.89 552.22L538.35 551.78L541.81 551.35L545.27 550.93L548.72 550.52L552.18 550.12L555.64 549.73L559.1 549.35L562.56 548.98L566.02 548.61L569.48 548.26L572.93 547.91L576.39 547.57L579.85 547.23L583.31 546.91L586.77 546.59L590.23 546.27L593.69 545.96L597.14 545.66L600.6 545.36L604.06 545.07L607.52 544.78L610.98 544.5L614.44 544.22L617.89 543.95L621.35 543.68L624.81 543.41L628.27 543.15L631.73 542.9L635.19 542.64L638.65 542.4L642.1 542.15L645.56 541.91L649.02 541.67L652.48 541.43L655.94 541.2L659.4 540.97L662.86 540.75" fill="none" stroke="#ee8420" stroke-width="2"/>
<path d="M455.34 585.9L458.8 584.18L462.26 582.61L465.72 581.15L469.18 579.81L472.64 578.55L476.1 577.36L479.55 576.25L483.01 575.19L486.47 574.19L489.93 573.23L493.39 572.32L496.85 571.45L500.31 570.61L503.76 569.8L507.22 569.03L510.68 568.28L514.14 567.56L517.6 566.86L521.06 566.18L524.51 565.53L527.97 564.89L531.43 564.27L534.89 563.67L538.35 563.08L541.81 562.51L545.27 561.96L548.72 561.42L552.18 560.89L555.64 560.37L559.1 559.86L562.56 559.37L566.02 558.88L569.48 558.41L572.93 557.94L576.39 557.49L579.85 557.04L583.31 556.6L586.77 556.18L590.23 555.75L593.69 555.34L597.14 554.93L600.6 554.53L604.06 554.14L607.52 553.75L610.98 553.37L614.44 552.99L617.89 552.62L621.35 552.26L624.81 551.9L628.27 551.55L631.73 551.2L635.19 550.86L638.65 550.52L642.1 550.19L645.56 549.86L649.02 549.53L652.48 549.21L655.94 548.9L659.4 548.59L662.86 548.28" fill="none" stroke="#33ad44" stroke-width="2"/>
<path d="M455.34 588.93L458.8 587.25L462.26 585.71L465.72 584.28L469.18 582.96L472.64 581.73L476.1 580.57L479.55 579.48L483.01 578.44L486.47 577.46L489.93 576.52L493.39 575.63L496.85 574.77L500.31 573.95L503.76 573.16L507.22 572.4L510.68 571.67L514.14 570.96L517.6 570.27L521.06 569.61L524.51 568.97L527.97 568.34L531.43 567.74L534.89 567.15L538.35 566.57L541.81 566.01L545.27 565.47L548.72 564.94L552.18 564.42L555.64 563.91L559.1 563.41L562.56 562.93L566.02 562.45L569.48 561.99L572.93 561.53L576.39 561.08L579.85 560.65L583.31 560.22L586.77 559.79L590.23 559.38L593.69 558.97L597.14 558.57L600.6 558.18L604.06 557.79L607.52 557.41L610.98 557.04L614.44 556.67L617.89 556.31L621.35 555.95L624.81 555.6L628.27 555.26L631.73 554.91L635.19 554.58L638.65 554.25L642.1 553.92L645.56 553.6L649.02 553.28L652.48 552.96L655.94 552.65L659.4 552.35L662.86 552.04" fill="none" stroke="#e01414" stroke-width="2"/>
</g>
<path d="M425.7 377.55V617.1H693.25" fill="none" stroke="#000" stroke-width="1.5" stroke-linecap="butt" stroke-linejoin="miter"/>
<path d="M425.7 617.1v7.8M484.99 617.1v7.8M544.28 617.1v7.8M603.57 617.1v7.8M662.86 617.1v7.8M455.34 617.1v3.9M514.63 617.1v3.9M573.92 617.1v3.9M633.21 617.1v3.9M692.5 617.1v3.9M425.7 608.87h-7.8M425.7 567.69h-7.8M425.7 526.52h-7.8M425.7 485.35h-7.8M425.7 444.18h-7.8M425.7 403h-7.8M425.7 588.28h-3.9M425.7 547.11h-3.9M425.7 505.93h-3.9M425.7 464.76h-3.9M425.7 423.59h-3.9M425.7 382.42h-3.9" fill="none" stroke="#000" stroke-width="1.5"/>
<text x="426" y="647.3" text-anchor="middle" class="t" letter-spacing="0.6">0.00</text>
<text x="485.29" y="647.3" text-anchor="middle" class="t" letter-spacing="0.6">0.04</text>
<text x="544.58" y="647.3" text-anchor="middle" class="t" letter-spacing="0.6">0.08</text>
<text x="603.87" y="647.3" text-anchor="middle" class="t" letter-spacing="0.6">0.12</text>
<text x="663.16" y="647.3" text-anchor="middle" class="t" letter-spacing="0.6">0.16</text>
<text x="410.7" y="614.97" text-anchor="end" class="t">1.0</text>
<text x="410.7" y="573.79" text-anchor="end" class="t">1.5</text>
<text x="410.7" y="532.62" text-anchor="end" class="t">2.0</text>
<text x="410.7" y="491.45" text-anchor="end" class="t">2.5</text>
<text x="410.7" y="450.28" text-anchor="end" class="t">3.0</text>
<text x="410.7" y="409.1" text-anchor="end" class="t">3.5</text>
<g>
<path d="M794.04 600.66L797.5 597.69L800.96 594.88L804.42 592.2L807.88 589.64L811.34 587.17L814.8 584.78L818.25 582.47L821.71 580.23L825.17 578.04L828.63 575.91L832.09 573.83L835.55 571.79L839.01 569.79L842.46 567.83L845.92 565.85L849.38 563.86L852.84 561.88L856.3 559.91L859.76 557.95L863.21 556.01L866.67 554.09L870.13 552.2L873.59 550.34L877.05 548.51L880.51 546.71L883.97 544.94L887.42 543.2L890.88 541.49L894.34 539.81L897.8 538.15L901.26 536.52L904.72 534.92L908.18 533.35L911.63 531.8L915.09 530.28L918.55 528.78L922.01 527.3L925.47 525.84L928.93 524.41L932.39 523L935.84 521.61L939.3 520.23L942.76 518.88L946.22 517.54L949.68 516.23L953.14 514.93L956.59 513.64L960.05 512.38L963.51 511.13L966.97 509.89L970.43 508.67L973.89 507.47L977.35 506.28L980.8 505.1L984.26 503.94L987.72 502.79L991.18 501.65L994.64 500.52L998.1 499.41L1001.56 498.31L1001.56 531.87L998.1 532.58L994.64 533.29L991.18 534.01L987.72 534.74L984.26 535.48L980.8 536.22L977.35 536.97L973.89 537.72L970.43 538.49L966.97 539.26L963.51 540.04L960.05 540.83L956.59 541.63L953.14 542.44L949.68 543.26L946.22 544.08L942.76 544.92L939.3 545.77L935.84 546.62L932.39 547.49L928.93 548.37L925.47 549.27L922.01 550.17L918.55 551.09L915.09 552.03L911.63 552.98L908.18 553.94L904.72 554.92L901.26 555.92L897.8 556.93L894.34 557.97L890.88 559.02L887.42 560.1L883.97 561.21L880.51 562.34L877.05 563.5L873.59 564.69L870.13 565.92L866.67 567.2L863.21 568.52L859.76 569.89L856.3 571.32L852.84 572.83L849.38 574.43L845.92 576.12L842.46 577.93L839.01 579.87L835.55 581.9L832.09 584.03L828.63 586.26L825.17 588.6L821.71 591.07L818.25 593.67L814.8 596.43L811.34 599.35L807.88 602.47L804.42 605.8L800.96 609.38L797.5 613.24L794.04 617.44Z" fill="#6b98e6" fill-opacity="0.44"/>
<path d="M794.04 599.13L797.5 596.63L800.96 594.3L804.42 592.11L807.88 590.04L811.34 588.08L814.8 586.21L818.25 584.42L821.71 582.71L825.17 581.06L828.63 579.47L832.09 577.94L835.55 576.45L839.01 575.02L842.46 573.62L845.92 572.22L849.38 570.83L852.84 569.45L856.3 568.08L859.76 566.73L863.21 565.4L866.67 564.08L870.13 562.78L873.59 561.51L877.05 560.26L880.51 559.03L883.97 557.82L887.42 556.63L890.88 555.46L894.34 554.31L897.8 553.18L901.26 552.08L904.72 550.99L908.18 549.92L911.63 548.87L915.09 547.83L918.55 546.82L922.01 545.82L925.47 544.83L928.93 543.87L932.39 542.91L935.84 541.97L939.3 541.05L942.76 540.14L946.22 539.24L949.68 538.36L953.14 537.48L956.59 536.63L960.05 535.78L963.51 534.94L966.97 534.12L970.43 533.3L973.89 532.5L977.35 531.7L980.8 530.92L984.26 530.15L987.72 529.38L991.18 528.63L994.64 527.88L998.1 527.15L1001.56 526.42L1001.56 551.59L998.1 552.04L994.64 552.49L991.18 552.95L987.72 553.41L984.26 553.88L980.8 554.35L977.35 554.83L973.89 555.32L970.43 555.81L966.97 556.31L963.51 556.81L960.05 557.32L956.59 557.84L953.14 558.36L949.68 558.89L946.22 559.43L942.76 559.98L939.3 560.54L935.84 561.1L932.39 561.67L928.93 562.26L925.47 562.85L922.01 563.45L918.55 564.06L915.09 564.69L911.63 565.32L908.18 565.97L904.72 566.64L901.26 567.31L897.8 568.01L894.34 568.71L890.88 569.44L887.42 570.19L883.97 570.95L880.51 571.74L877.05 572.55L873.59 573.39L870.13 574.26L866.67 575.16L863.21 576.1L859.76 577.09L856.3 578.12L852.84 579.2L849.38 580.35L845.92 581.57L842.46 582.86L839.01 584.25L835.55 585.7L832.09 587.21L828.63 588.79L825.17 590.45L821.71 592.19L818.25 594.03L814.8 595.97L811.34 598.03L807.88 600.23L804.42 602.58L800.96 605.12L797.5 607.87L794.04 610.87Z" fill="#f7a968" fill-opacity="0.44"/>
<path d="M794.04 600.29L797.5 597.91L800.96 595.7L804.42 593.62L807.88 591.66L811.34 589.8L814.8 588.02L818.25 586.33L821.71 584.7L825.17 583.13L828.63 581.63L832.09 580.17L835.55 578.77L839.01 577.4L842.46 576.07L845.92 574.75L849.38 573.43L852.84 572.11L856.3 570.81L859.76 569.52L863.21 568.25L866.67 567L870.13 565.76L873.59 564.54L877.05 563.35L880.51 562.17L883.97 561.02L887.42 559.88L890.88 558.77L894.34 557.67L897.8 556.6L901.26 555.54L904.72 554.5L908.18 553.48L911.63 552.48L915.09 551.49L918.55 550.52L922.01 549.57L925.47 548.63L928.93 547.71L932.39 546.8L935.84 545.9L939.3 545.02L942.76 544.16L946.22 543.3L949.68 542.46L953.14 541.63L956.59 540.81L960.05 540L963.51 539.2L966.97 538.42L970.43 537.64L973.89 536.88L977.35 536.12L980.8 535.38L984.26 534.64L987.72 533.91L991.18 533.2L994.64 532.49L998.1 531.78L1001.56 531.09L1001.56 556.26L998.1 556.68L994.64 557.09L991.18 557.51L987.72 557.94L984.26 558.37L980.8 558.81L977.35 559.25L973.89 559.7L970.43 560.15L966.97 560.61L963.51 561.07L960.05 561.54L956.59 562.02L953.14 562.5L949.68 563L946.22 563.49L942.76 564L939.3 564.51L935.84 565.03L932.39 565.56L928.93 566.1L925.47 566.65L922.01 567.2L918.55 567.77L915.09 568.35L911.63 568.94L908.18 569.54L904.72 570.15L901.26 570.78L897.8 571.42L894.34 572.08L890.88 572.75L887.42 573.44L883.97 574.15L880.51 574.89L877.05 575.64L873.59 576.43L870.13 577.24L866.67 578.08L863.21 578.96L859.76 579.88L856.3 580.85L852.84 581.87L849.38 582.95L845.92 584.1L842.46 585.32L839.01 586.63L835.55 588.01L832.09 589.44L828.63 590.95L825.17 592.52L821.71 594.18L818.25 595.93L814.8 597.78L811.34 599.75L807.88 601.84L804.42 604.09L800.96 606.52L797.5 609.15L794.04 612.03Z" fill="#7fe08a" fill-opacity="0.44"/>
<path d="M794.04 603.18L797.5 600.58L800.96 598.16L804.42 595.88L807.88 593.72L811.34 591.67L814.8 589.72L818.25 587.85L821.71 586.05L825.17 584.32L828.63 582.65L832.09 581.04L835.55 579.49L839.01 577.98L842.46 576.5L845.92 575.03L849.38 573.58L852.84 572.13L856.3 570.69L859.76 569.27L863.21 567.87L866.67 566.49L870.13 565.14L873.59 563.8L877.05 562.48L880.51 561.19L883.97 559.92L887.42 558.67L890.88 557.45L894.34 556.24L897.8 555.06L901.26 553.9L904.72 552.75L908.18 551.63L911.63 550.52L915.09 549.43L918.55 548.37L922.01 547.31L925.47 546.28L928.93 545.26L932.39 544.25L935.84 543.26L939.3 542.29L942.76 541.33L946.22 540.38L949.68 539.45L953.14 538.53L956.59 537.62L960.05 536.73L963.51 535.84L966.97 534.97L970.43 534.11L973.89 533.26L977.35 532.42L980.8 531.6L984.26 530.78L987.72 529.97L991.18 529.17L994.64 528.38L998.1 527.6L1001.56 526.83L1001.56 552L998.1 552.49L994.64 552.99L991.18 553.49L987.72 554L984.26 554.51L980.8 555.03L977.35 555.55L973.89 556.08L970.43 556.62L966.97 557.16L963.51 557.71L960.05 558.27L956.59 558.83L953.14 559.41L949.68 559.99L946.22 560.57L942.76 561.17L939.3 561.78L935.84 562.39L932.39 563.01L928.93 563.65L925.47 564.29L922.01 564.94L918.55 565.61L915.09 566.29L911.63 566.98L908.18 567.68L904.72 568.4L901.26 569.13L897.8 569.88L894.34 570.65L890.88 571.43L887.42 572.23L883.97 573.06L880.51 573.91L877.05 574.78L873.59 575.68L870.13 576.61L866.67 577.58L863.21 578.58L859.76 579.63L856.3 580.73L852.84 581.88L849.38 583.1L845.92 584.38L842.46 585.75L839.01 587.21L835.55 588.73L832.09 590.32L828.63 591.97L825.17 593.71L821.71 595.53L818.25 597.45L814.8 599.47L811.34 601.62L807.88 603.91L804.42 606.35L800.96 608.98L797.5 611.82L794.04 614.92Z" fill="#f08080" fill-opacity="0.44"/>
<g fill="#7fb0f4" fill-opacity="0.8" stroke="#2f6cc4" stroke-width="1.6">
<circle cx="794.04" cy="588.07" r="4.4"/>
<circle cx="794.04" cy="593.94" r="4.4"/>
<circle cx="794.04" cy="600.65" r="4.4"/>
<circle cx="794.04" cy="604.85" r="4.4"/>
<circle cx="823.69" cy="573.8" r="4.4"/>
<circle cx="823.69" cy="575.99" r="4.4"/>
<circle cx="823.69" cy="583.87" r="4.4"/>
<circle cx="823.69" cy="592.26" r="4.4"/>
<circle cx="823.69" cy="600.65" r="4.4"/>
<circle cx="853.33" cy="570.45" r="4.4"/>
<circle cx="853.33" cy="579.68" r="4.4"/>
<circle cx="853.33" cy="588.07" r="4.4"/>
<circle cx="853.33" cy="602.33" r="4.4"/>
<circle cx="882.98" cy="554.51" r="4.4"/>
<circle cx="882.98" cy="562.9" r="4.4"/>
<circle cx="882.98" cy="571.29" r="4.4"/>
<circle cx="882.98" cy="579.68" r="4.4"/>
<circle cx="882.98" cy="588.07" r="4.4"/>
<circle cx="942.27" cy="492.41" r="4.4"/>
<circle cx="942.27" cy="511.21" r="4.4"/>
<circle cx="942.27" cy="522.03" r="4.4"/>
<circle cx="942.27" cy="525.98" r="4.4"/>
<circle cx="942.27" cy="541.92" r="4.4"/>
<circle cx="942.27" cy="554.51" r="4.4"/>
<circle cx="1001.56" cy="391.47" r="4.4"/>
<circle cx="1001.56" cy="412.87" r="4.4"/>
<circle cx="1001.56" cy="421.6" r="4.4"/>
<circle cx="1001.56" cy="434.18" r="4.4"/>
<circle cx="1001.56" cy="436.7" r="4.4"/>
<circle cx="1001.56" cy="456.75" r="4.4"/>
<circle cx="1001.56" cy="504.16" r="4.4"/>
<circle cx="1001.56" cy="547.12" r="4.4"/>
</g>
<g fill="#f8a558" fill-opacity="0.8" stroke="#ec7f1e" stroke-width="1.6">
<circle cx="794.04" cy="570.45" r="4.4"/>
<circle cx="794.04" cy="588.07" r="4.4"/>
<circle cx="794.04" cy="593.94" r="4.4"/>
<circle cx="794.04" cy="600.65" r="4.4"/>
<circle cx="823.69" cy="559.62" r="4.4"/>
<circle cx="823.69" cy="565.41" r="4.4"/>
<circle cx="823.69" cy="579.68" r="4.4"/>
<circle cx="823.69" cy="588.07" r="4.4"/>
<circle cx="823.69" cy="596.46" r="4.4"/>
<circle cx="853.33" cy="558.7" r="4.4"/>
<circle cx="853.33" cy="575.48" r="4.4"/>
<circle cx="853.33" cy="583.87" r="4.4"/>
<circle cx="853.33" cy="592.26" r="4.4"/>
<circle cx="882.98" cy="535.29" r="4.4"/>
<circle cx="882.98" cy="546.11" r="4.4"/>
<circle cx="882.98" cy="558.7" r="4.4"/>
<circle cx="882.98" cy="571.29" r="4.4"/>
<circle cx="882.98" cy="583.87" r="4.4"/>
<circle cx="942.27" cy="541.92" r="4.4"/>
<circle cx="942.27" cy="547.79" r="4.4"/>
<circle cx="942.27" cy="554.51" r="4.4"/>
<circle cx="942.27" cy="560.38" r="4.4"/>
<circle cx="942.27" cy="567.09" r="4.4"/>
<circle cx="1001.56" cy="459.27" r="4.4"/>
<circle cx="1001.56" cy="490.65" r="4.4"/>
<circle cx="1001.56" cy="493.25" r="4.4"/>
<circle cx="1001.56" cy="520.94" r="4.4"/>
<circle cx="1001.56" cy="533.53" r="4.4"/>
<circle cx="1001.56" cy="558.7" r="4.4"/>
</g>
<g fill="#8fd4aa" fill-opacity="0.8" stroke="#37a069" stroke-width="1.6">
<circle cx="794.04" cy="570.87" r="4.4"/>
<circle cx="794.04" cy="588.07" r="4.4"/>
<circle cx="794.04" cy="593.94" r="4.4"/>
<circle cx="794.04" cy="600.65" r="4.4"/>
<circle cx="823.69" cy="562.14" r="4.4"/>
<circle cx="823.69" cy="567.09" r="4.4"/>
<circle cx="823.69" cy="579.68" r="4.4"/>
<circle cx="823.69" cy="588.07" r="4.4"/>
<circle cx="823.69" cy="596.46" r="4.4"/>
<circle cx="853.33" cy="553.41" r="4.4"/>
<circle cx="853.33" cy="556.18" r="4.4"/>
<circle cx="853.33" cy="575.48" r="4.4"/>
<circle cx="853.33" cy="583.87" r="4.4"/>
<circle cx="853.33" cy="592.26" r="4.4"/>
<circle cx="882.98" cy="538.31" r="4.4"/>
<circle cx="882.98" cy="541.92" r="4.4"/>
<circle cx="882.98" cy="558.7" r="4.4"/>
<circle cx="882.98" cy="571.29" r="4.4"/>
<circle cx="882.98" cy="583.87" r="4.4"/>
<circle cx="942.27" cy="528.49" r="4.4"/>
<circle cx="942.27" cy="536.05" r="4.4"/>
<circle cx="942.27" cy="546.11" r="4.4"/>
<circle cx="942.27" cy="554.51" r="4.4"/>
<circle cx="942.27" cy="563.4" r="4.4"/>
<circle cx="942.27" cy="567.09" r="4.4"/>
<circle cx="1001.56" cy="498.29" r="4.4"/>
<circle cx="1001.56" cy="500.8" r="4.4"/>
<circle cx="1001.56" cy="505.84" r="4.4"/>
<circle cx="1001.56" cy="515.91" r="4.4"/>
<circle cx="1001.56" cy="525.98" r="4.4"/>
<circle cx="1001.56" cy="533.53" r="4.4"/>
<circle cx="1001.56" cy="565.16" r="4.4"/>
</g>
<g fill="#f39393" fill-opacity="0.8" stroke="#dd1a1a" stroke-width="1.6">
<circle cx="794.04" cy="573.47" r="4.4"/>
<circle cx="794.04" cy="588.49" r="4.4"/>
<circle cx="794.04" cy="592.26" r="4.4"/>
<circle cx="794.04" cy="596.04" r="4.4"/>
<circle cx="794.04" cy="603.59" r="4.4"/>
<circle cx="794.04" cy="607.37" r="4.4"/>
<circle cx="823.69" cy="567.93" r="4.4"/>
<circle cx="823.69" cy="581.02" r="4.4"/>
<circle cx="823.69" cy="584.71" r="4.4"/>
<circle cx="823.69" cy="588.49" r="4.4"/>
<circle cx="823.69" cy="593.52" r="4.4"/>
<circle cx="823.69" cy="598.56" r="4.4"/>
<circle cx="823.69" cy="603.59" r="4.4"/>
<circle cx="823.69" cy="607.37" r="4.4"/>
<circle cx="853.33" cy="559.62" r="4.4"/>
<circle cx="853.33" cy="583.54" r="4.4"/>
<circle cx="853.33" cy="588.49" r="4.4"/>
<circle cx="853.33" cy="594.78" r="4.4"/>
<circle cx="853.33" cy="604.85" r="4.4"/>
<circle cx="882.98" cy="547.12" r="4.4"/>
<circle cx="882.98" cy="559.62" r="4.4"/>
<circle cx="882.98" cy="568.43" r="4.4"/>
<circle cx="882.98" cy="575.99" r="4.4"/>
<circle cx="882.98" cy="582.19" r="4.4"/>
<circle cx="882.98" cy="591" r="4.4"/>
<circle cx="882.98" cy="597.3" r="4.4"/>
<circle cx="882.98" cy="598.98" r="4.4"/>
<circle cx="942.27" cy="535.79" r="4.4"/>
<circle cx="942.27" cy="569.69" r="4.4"/>
<circle cx="942.27" cy="573.47" r="4.4"/>
<circle cx="942.27" cy="577.16" r="4.4"/>
<circle cx="942.27" cy="587.23" r="4.4"/>
<circle cx="1001.56" cy="433.43" r="4.4"/>
<circle cx="1001.56" cy="463.05" r="4.4"/>
<circle cx="1001.56" cy="466.82" r="4.4"/>
<circle cx="1001.56" cy="470.6" r="4.4"/>
<circle cx="1001.56" cy="475.63" r="4.4"/>
<circle cx="1001.56" cy="510.71" r="4.4"/>
<circle cx="1001.56" cy="550.9" r="4.4"/>
</g>
<path d="M794.04 609.05L797.5 605.47L800.96 602.13L804.42 599L807.88 596.05L811.34 593.26L814.8 590.61L818.25 588.07L821.71 585.65L825.17 583.32L828.63 581.08L832.09 578.93L835.55 576.85L839.01 574.83L842.46 572.88L845.92 570.99L849.38 569.15L852.84 567.36L856.3 565.61L859.76 563.92L863.21 562.26L866.67 560.64L870.13 559.06L873.59 557.52L877.05 556.01L880.51 554.53L883.97 553.07L887.42 551.65L890.88 550.26L894.34 548.89L897.8 547.54L901.26 546.22L904.72 544.92L908.18 543.64L911.63 542.39L915.09 541.15L918.55 539.94L922.01 538.74L925.47 537.56L928.93 536.39L932.39 535.25L935.84 534.12L939.3 533L942.76 531.9L946.22 530.81L949.68 529.74L953.14 528.68L956.59 527.64L960.05 526.61L963.51 525.59L966.97 524.58L970.43 523.58L973.89 522.6L977.35 521.62L980.8 520.66L984.26 519.71L987.72 518.76L991.18 517.83L994.64 516.91L998.1 515.99L1001.56 515.09" fill="none" stroke="#0c1ab8" stroke-width="2"/>
<path d="M794.04 605L797.5 602.25L800.96 599.71L804.42 597.35L807.88 595.14L811.34 593.06L814.8 591.09L818.25 589.23L821.71 587.45L825.17 585.75L828.63 584.13L832.09 582.57L835.55 581.08L839.01 579.63L842.46 578.24L845.92 576.89L849.38 575.59L852.84 574.33L856.3 573.1L859.76 571.91L863.21 570.75L866.67 569.62L870.13 568.52L873.59 567.45L877.05 566.4L880.51 565.38L883.97 564.38L887.42 563.41L890.88 562.45L894.34 561.51L897.8 560.59L901.26 559.69L904.72 558.81L908.18 557.95L911.63 557.1L915.09 556.26L918.55 555.44L922.01 554.63L925.47 553.84L928.93 553.06L932.39 552.29L935.84 551.54L939.3 550.79L942.76 550.06L946.22 549.34L949.68 548.63L953.14 547.92L956.59 547.23L960.05 546.55L963.51 545.88L966.97 545.21L970.43 544.56L973.89 543.91L977.35 543.27L980.8 542.64L984.26 542.01L987.72 541.4L991.18 540.79L994.64 540.19L998.1 539.59L1001.56 539" fill="none" stroke="#ee8420" stroke-width="2"/>
<path d="M794.04 606.16L797.5 603.53L800.96 601.11L804.42 598.86L807.88 596.75L811.34 594.77L814.8 592.9L818.25 591.13L821.71 589.44L825.17 587.83L828.63 586.29L832.09 584.81L835.55 583.39L839.01 582.02L842.46 580.7L845.92 579.42L849.38 578.19L852.84 576.99L856.3 575.83L859.76 574.7L863.21 573.61L866.67 572.54L870.13 571.5L873.59 570.48L877.05 569.5L880.51 568.53L883.97 567.59L887.42 566.66L890.88 565.76L894.34 564.88L897.8 564.01L901.26 563.16L904.72 562.33L908.18 561.51L911.63 560.71L915.09 559.92L918.55 559.15L922.01 558.39L925.47 557.64L928.93 556.9L932.39 556.18L935.84 555.47L939.3 554.77L942.76 554.08L946.22 553.4L949.68 552.73L953.14 552.07L956.59 551.41L960.05 550.77L963.51 550.14L966.97 549.51L970.43 548.9L973.89 548.29L977.35 547.69L980.8 547.09L984.26 546.51L987.72 545.93L991.18 545.35L994.64 544.79L998.1 544.23L1001.56 543.68" fill="none" stroke="#33ad44" stroke-width="2"/>
<path d="M794.04 609.05L797.5 606.2L800.96 603.57L804.42 601.11L807.88 598.81L811.34 596.65L814.8 594.59L818.25 592.65L821.71 590.79L825.17 589.01L828.63 587.31L832.09 585.68L835.55 584.11L839.01 582.59L842.46 581.13L845.92 579.71L849.38 578.34L852.84 577L856.3 575.71L859.76 574.45L863.21 573.23L866.67 572.04L870.13 570.87L873.59 569.74L877.05 568.63L880.51 567.55L883.97 566.49L887.42 565.45L890.88 564.44L894.34 563.44L897.8 562.47L901.26 561.51L904.72 560.58L908.18 559.65L911.63 558.75L915.09 557.86L918.55 556.99L922.01 556.13L925.47 555.28L928.93 554.45L932.39 553.63L935.84 552.83L939.3 552.03L942.76 551.25L946.22 550.48L949.68 549.72L953.14 548.97L956.59 548.23L960.05 547.5L963.51 546.78L966.97 546.07L970.43 545.37L973.89 544.67L977.35 543.99L980.8 543.31L984.26 542.64L987.72 541.98L991.18 541.33L994.64 540.68L998.1 540.05L1001.56 539.41" fill="none" stroke="#e01414" stroke-width="2"/>
</g>
<path d="M764.4 377.55V617.1H1031.95" fill="none" stroke="#000" stroke-width="1.5" stroke-linecap="butt" stroke-linejoin="miter"/>
<path d="M764.4 617.1v7.8M823.69 617.1v7.8M882.98 617.1v7.8M942.27 617.1v7.8M1001.56 617.1v7.8M794.04 617.1v3.9M853.33 617.1v3.9M912.62 617.1v3.9M971.91 617.1v3.9M1031.2 617.1v3.9M764.4 583.87h-7.8M764.4 541.92h-7.8M764.4 499.97h-7.8M764.4 458.01h-7.8M764.4 416.06h-7.8M764.4 604.85h-3.9M764.4 562.9h-3.9M764.4 520.94h-3.9M764.4 478.99h-3.9M764.4 437.04h-3.9M764.4 395.08h-3.9" fill="none" stroke="#000" stroke-width="1.5"/>
<text x="764.7" y="647.3" text-anchor="middle" class="t" letter-spacing="0.6">0.00</text>
<text x="823.99" y="647.3" text-anchor="middle" class="t" letter-spacing="0.6">0.04</text>
<text x="883.28" y="647.3" text-anchor="middle" class="t" letter-spacing="0.6">0.08</text>
<text x="942.57" y="647.3" text-anchor="middle" class="t" letter-spacing="0.6">0.12</text>
<text x="1001.86" y="647.3" text-anchor="middle" class="t" letter-spacing="0.6">0.16</text>
<text x="749.4" y="589.97" text-anchor="end" class="t">1.5</text>
<text x="749.4" y="548.02" text-anchor="end" class="t">2.0</text>
<text x="749.4" y="506.07" text-anchor="end" class="t">2.5</text>
<text x="749.4" y="464.11" text-anchor="end" class="t">3.0</text>
<text x="749.4" y="422.16" text-anchor="end" class="t">3.5</text>
<rect x="768.6" y="372.5" width="221" height="99.6" fill="#fff" stroke="#000" stroke-width="1.1"/>
<circle cx="792.5" cy="388.4" r="4.4" fill="#7fb0f4" fill-opacity="0.8" stroke="#2f6cc4" stroke-width="1.6"/>
<circle cx="887.3" cy="388.4" r="4.4" fill="#f8a558" fill-opacity="0.8" stroke="#ec7f1e" stroke-width="1.6"/>
<circle cx="792.5" cy="413.2" r="4.4" fill="#8fd4aa" fill-opacity="0.8" stroke="#37a069" stroke-width="1.6"/>
<circle cx="887.3" cy="413.2" r="4.4" fill="#f39393" fill-opacity="0.8" stroke="#dd1a1a" stroke-width="1.6"/>
<text x="814.4" y="393.8" font-size="19px"><tspan font-style="italic">α</tspan>=20°</text>
<text x="909.8" y="393.8" font-size="19px"><tspan font-style="italic">α</tspan>=40°</text>
<text x="814.4" y="418.8" font-size="19px"><tspan font-style="italic">α</tspan>=60°</text>
<text x="909.8" y="418.8" font-size="19px"><tspan font-style="italic">α</tspan>=80°</text>
<path d="M771.8 436.2H812.8" stroke="#0a1a90" stroke-width="1.8"/>
<text x="819" y="441.8" font-size="18.5px">Best-fitting for MAF</text>
<rect x="771.8" y="449.4" width="40.8" height="20" fill="#6b98e6" fill-opacity="0.44"/>
<text x="818.6" y="465.6" font-size="18.6px">95% Confidence Band</text>
<path d="M111.34 787.86V810.33M108.84 787.86h5M108.84 810.33h5" stroke="#0c0ca8" stroke-width="1.9" fill="none"/>
<rect x="108.24" y="790.26" width="6.2" height="15.12" fill="#a2b8fb" fill-opacity="0.92" stroke="#4c5cc4" stroke-width="1.6"/>
<path d="M107.44 798.35h7.8" stroke="#0c0ca8" stroke-width="2"/>
<path d="M111.34 795.5l2.7 2.7l-2.7 2.7l-2.7 -2.7Z" fill="#0c0ca8"/>
<path d="M118.34 831.74V860.64M115.84 831.74h5M115.84 860.64h5" stroke="#e47a24" stroke-width="1.9" fill="none"/>
<rect x="115.24" y="831.74" width="6.2" height="20.07" fill="#fcc296" fill-opacity="0.92" stroke="#f0a060" stroke-width="1.6"/>
<path d="M114.44 841.33h7.8" stroke="#e47a24" stroke-width="2"/>
<path d="M118.34 840.42l2.7 2.7l-2.7 2.7l-2.7 -2.7Z" fill="#e47a24"/>
<path d="M125.24 850.61V895.09M122.74 850.61h5M122.74 895.09h5" stroke="#0c6c1a" stroke-width="1.9" fill="none"/>
<rect x="122.14" y="860.19" width="6.2" height="28.15" fill="#a8e4b8" fill-opacity="0.92" stroke="#3f9c4a" stroke-width="1.6"/>
<path d="M121.34 873.22h7.8" stroke="#0c6c1a" stroke-width="2"/>
<path d="M125.24 871.12l2.7 2.7l-2.7 2.7l-2.7 -2.7Z" fill="#0c6c1a"/>
<path d="M132.34 794.75V812.42M129.84 794.75h5M129.84 812.42h5" stroke="#d01018" stroke-width="1.9" fill="none"/>
<rect x="129.24" y="798.35" width="6.2" height="13.33" fill="#fcaaac" fill-opacity="0.92" stroke="#e2525a" stroke-width="1.6"/>
<path d="M128.44 805.39h7.8" stroke="#d01018" stroke-width="2"/>
<path d="M132.34 802.24l2.7 2.7l-2.7 2.7l-2.7 -2.7Z" fill="#d01018"/>
<path d="M140.99 773.79V830.54M138.49 773.79h5M138.49 830.54h5" stroke="#0c0ca8" stroke-width="1.9" fill="none"/>
<rect x="137.89" y="783.22" width="6.2" height="28.45" fill="#a2b8fb" fill-opacity="0.92" stroke="#4c5cc4" stroke-width="1.6"/>
<path d="M137.09 795.35h7.8" stroke="#0c0ca8" stroke-width="2"/>
<path d="M140.99 794l2.7 2.7l-2.7 2.7l-2.7 -2.7Z" fill="#0c0ca8"/>
<path d="M147.99 826.65V862.59M145.49 826.65h5M145.49 862.59h5" stroke="#e47a24" stroke-width="1.9" fill="none"/>
<rect x="144.89" y="829.2" width="6.2" height="24.41" fill="#fcc296" fill-opacity="0.92" stroke="#f0a060" stroke-width="1.6"/>
<path d="M144.09 838.48h7.8" stroke="#e47a24" stroke-width="2"/>
<path d="M147.99 838.92l2.7 2.7l-2.7 2.7l-2.7 -2.7Z" fill="#e47a24"/>
<path d="M154.89 857.65V897.63M152.39 857.65h5M152.39 897.63h5" stroke="#0c6c1a" stroke-width="1.9" fill="none"/>
<rect x="151.79" y="865.14" width="6.2" height="23.66" fill="#a8e4b8" fill-opacity="0.92" stroke="#3f9c4a" stroke-width="1.6"/>
<path d="M150.99 876.97h7.8" stroke="#0c6c1a" stroke-width="2"/>
<path d="M154.89 874.87l2.7 2.7l-2.7 2.7l-2.7 -2.7Z" fill="#0c6c1a"/>
<path d="M161.99 832.49V890.74M159.49 832.49h5M159.49 890.74h5" stroke="#d01018" stroke-width="1.9" fill="none"/>
<rect x="158.89" y="848.51" width="6.2" height="31" fill="#fcaaac" fill-opacity="0.92" stroke="#e2525a" stroke-width="1.6"/>
<path d="M158.09 863.64h7.8" stroke="#d01018" stroke-width="2"/>
<path d="M161.99 861.39l2.7 2.7l-2.7 2.7l-2.7 -2.7Z" fill="#d01018"/>
<path d="M170.63 747.58V806.58M168.13 747.58h5M168.13 806.58h5" stroke="#0c0ca8" stroke-width="1.9" fill="none"/>
<rect x="167.53" y="751.33" width="6.2" height="38.49" fill="#a2b8fb" fill-opacity="0.92" stroke="#4c5cc4" stroke-width="1.6"/>
<path d="M166.73 769h7.8" stroke="#0c0ca8" stroke-width="2"/>
<path d="M170.63 768.54l2.7 2.7l-2.7 2.7l-2.7 -2.7Z" fill="#0c0ca8"/>
<path d="M177.63 819.76V845.07M175.13 819.76h5M175.13 845.07h5" stroke="#e47a24" stroke-width="1.9" fill="none"/>
<rect x="174.53" y="825.45" width="6.2" height="19.62" fill="#fcc296" fill-opacity="0.92" stroke="#f0a060" stroke-width="1.6"/>
<path d="M173.73 836.23h7.8" stroke="#e47a24" stroke-width="2"/>
<path d="M177.63 832.93l2.7 2.7l-2.7 2.7l-2.7 -2.7Z" fill="#e47a24"/>
<path d="M184.53 851.81V887.75M182.03 851.81h5M182.03 887.75h5" stroke="#0c6c1a" stroke-width="1.9" fill="none"/>
<rect x="181.43" y="859.45" width="6.2" height="22.61" fill="#a8e4b8" fill-opacity="0.92" stroke="#3f9c4a" stroke-width="1.6"/>
<path d="M180.63 871.13h7.8" stroke="#0c6c1a" stroke-width="2"/>
<path d="M184.53 868.13l2.7 2.7l-2.7 2.7l-2.7 -2.7Z" fill="#0c6c1a"/>
<path d="M191.63 832.49V888.8M189.13 832.49h5M189.13 888.8h5" stroke="#d01018" stroke-width="1.9" fill="none"/>
<rect x="188.53" y="848.06" width="6.2" height="35.19" fill="#fcaaac" fill-opacity="0.92" stroke="#e2525a" stroke-width="1.6"/>
<path d="M187.73 869.48h7.8" stroke="#d01018" stroke-width="2"/>
<path d="M191.63 864.38l2.7 2.7l-2.7 2.7l-2.7 -2.7Z" fill="#d01018"/>
<path d="M200.28 718.68V826.05M197.78 718.68h5M197.78 826.05h5" stroke="#0c0ca8" stroke-width="1.9" fill="none"/>
<rect x="197.18" y="746.83" width="6.2" height="56.76" fill="#a2b8fb" fill-opacity="0.92" stroke="#4c5cc4" stroke-width="1.6"/>
<path d="M196.38 780.23h7.8" stroke="#0c0ca8" stroke-width="2"/>
<path d="M200.28 773.03l2.7 2.7l-2.7 2.7l-2.7 -2.7Z" fill="#0c0ca8"/>
<path d="M207.28 805.39V858.85M204.78 805.39h5M204.78 858.85h5" stroke="#e47a24" stroke-width="1.9" fill="none"/>
<rect x="204.18" y="815.42" width="6.2" height="28.15" fill="#fcc296" fill-opacity="0.92" stroke="#f0a060" stroke-width="1.6"/>
<path d="M203.38 828.45h7.8" stroke="#e47a24" stroke-width="2"/>
<path d="M207.28 826.94l2.7 2.7l-2.7 2.7l-2.7 -2.7Z" fill="#e47a24"/>
<path d="M214.18 840.58V895.83M211.68 840.58h5M211.68 895.83h5" stroke="#0c6c1a" stroke-width="1.9" fill="none"/>
<rect x="211.08" y="853.61" width="6.2" height="30.1" fill="#a8e4b8" fill-opacity="0.92" stroke="#3f9c4a" stroke-width="1.6"/>
<path d="M210.28 869.48h7.8" stroke="#0c6c1a" stroke-width="2"/>
<path d="M214.18 865.88l2.7 2.7l-2.7 2.7l-2.7 -2.7Z" fill="#0c6c1a"/>
<path d="M221.28 824.7V907.81M218.78 824.7h5M218.78 907.81h5" stroke="#d01018" stroke-width="1.9" fill="none"/>
<rect x="218.18" y="841.03" width="6.2" height="47.77" fill="#fcaaac" fill-opacity="0.92" stroke="#e2525a" stroke-width="1.6"/>
<path d="M217.38 871.43h7.8" stroke="#d01018" stroke-width="2"/>
<path d="M221.28 862.88l2.7 2.7l-2.7 2.7l-2.7 -2.7Z" fill="#d01018"/>
<path d="M259.57 732.01V787.86M257.07 732.01h5M257.07 787.86h5" stroke="#0c0ca8" stroke-width="1.9" fill="none"/>
<rect x="256.47" y="732.01" width="6.2" height="39.53" fill="#a2b8fb" fill-opacity="0.92" stroke="#4c5cc4" stroke-width="1.6"/>
<path d="M255.67 742.64h7.8" stroke="#0c0ca8" stroke-width="2"/>
<path d="M259.57 748.63l2.7 2.7l-2.7 2.7l-2.7 -2.7Z" fill="#0c0ca8"/>
<path d="M266.57 794.9V836.83M264.07 794.9h5M264.07 836.83h5" stroke="#e47a24" stroke-width="1.9" fill="none"/>
<rect x="263.47" y="800.89" width="6.2" height="24.56" fill="#fcc296" fill-opacity="0.92" stroke="#f0a060" stroke-width="1.6"/>
<path d="M262.67 812.87h7.8" stroke="#e47a24" stroke-width="2"/>
<path d="M266.57 810.47l2.7 2.7l-2.7 2.7l-2.7 -2.7Z" fill="#e47a24"/>
<path d="M273.47 848.06V888.8M270.97 848.06h5M270.97 888.8h5" stroke="#0c6c1a" stroke-width="1.9" fill="none"/>
<rect x="270.37" y="848.06" width="6.2" height="27.7" fill="#a8e4b8" fill-opacity="0.92" stroke="#3f9c4a" stroke-width="1.6"/>
<path d="M269.57 853.61h7.8" stroke="#0c6c1a" stroke-width="2"/>
<path d="M273.47 859.14l2.7 2.7l-2.7 2.7l-2.7 -2.7Z" fill="#0c6c1a"/>
<path d="M280.57 838.78V892.09M278.07 838.78h5M278.07 892.09h5" stroke="#d01018" stroke-width="1.9" fill="none"/>
<rect x="277.47" y="853.61" width="6.2" height="37.74" fill="#fcaaac" fill-opacity="0.92" stroke="#e2525a" stroke-width="1.6"/>
<path d="M276.67 875.02h7.8" stroke="#d01018" stroke-width="2"/>
<path d="M280.57 870.37l2.7 2.7l-2.7 2.7l-2.7 -2.7Z" fill="#d01018"/>
<path d="M318.86 692.77V770.64M316.36 692.77h5M316.36 770.64h5" stroke="#0c0ca8" stroke-width="1.9" fill="none"/>
<rect x="315.76" y="699.81" width="6.2" height="56.61" fill="#a2b8fb" fill-opacity="0.92" stroke="#4c5cc4" stroke-width="1.6"/>
<path d="M314.96 727.96h7.8" stroke="#0c0ca8" stroke-width="2"/>
<path d="M318.86 725.11l2.7 2.7l-2.7 2.7l-2.7 -2.7Z" fill="#0c0ca8"/>
<path d="M325.86 753.87V834.74M323.36 753.87h5M323.36 834.74h5" stroke="#e47a24" stroke-width="1.9" fill="none"/>
<rect x="322.76" y="775.29" width="6.2" height="45.97" fill="#fcc296" fill-opacity="0.92" stroke="#f0a060" stroke-width="1.6"/>
<path d="M321.96 797.9h7.8" stroke="#e47a24" stroke-width="2"/>
<path d="M325.86 795.5l2.7 2.7l-2.7 2.7l-2.7 -2.7Z" fill="#e47a24"/>
<path d="M332.76 822.91V875.02M330.26 822.91h5M330.26 875.02h5" stroke="#0c6c1a" stroke-width="1.9" fill="none"/>
<rect x="329.66" y="828" width="6.2" height="32.2" fill="#a8e4b8" fill-opacity="0.92" stroke="#3f9c4a" stroke-width="1.6"/>
<path d="M328.86 841.77h7.8" stroke="#0c6c1a" stroke-width="2"/>
<path d="M332.76 841.17l2.7 2.7l-2.7 2.7l-2.7 -2.7Z" fill="#0c6c1a"/>
<path d="M339.86 816.62V879.96M337.36 816.62h5M337.36 879.96h5" stroke="#d01018" stroke-width="1.9" fill="none"/>
<rect x="336.76" y="827.25" width="6.2" height="47.17" fill="#fcaaac" fill-opacity="0.92" stroke="#e2525a" stroke-width="1.6"/>
<path d="M335.96 851.81h7.8" stroke="#d01018" stroke-width="2"/>
<path d="M339.86 847.91l2.7 2.7l-2.7 2.7l-2.7 -2.7Z" fill="#d01018"/>
<path d="M91.8 676.15V916.5H359.35" fill="none" stroke="#000" stroke-width="1.5" stroke-linecap="butt" stroke-linejoin="miter"/>
<path d="M91.8 916.5v7.8M151.09 916.5v7.8M210.38 916.5v7.8M269.67 916.5v7.8M328.96 916.5v7.8M121.44 916.5v3.9M180.73 916.5v3.9M240.02 916.5v3.9M299.31 916.5v3.9M358.6 916.5v3.9M91.8 886.55h-7.8M91.8 826.65h-7.8M91.8 766.75h-7.8M91.8 706.85h-7.8M91.8 916.5h-3.9M91.8 856.6h-3.9M91.8 796.7h-3.9M91.8 736.8h-3.9M91.8 676.9h-3.9" fill="none" stroke="#000" stroke-width="1.5"/>
<text x="92.1" y="946.7" text-anchor="middle" class="t" letter-spacing="0.6">0.00</text>
<text x="151.39" y="946.7" text-anchor="middle" class="t" letter-spacing="0.6">0.04</text>
<text x="210.68" y="946.7" text-anchor="middle" class="t" letter-spacing="0.6">0.08</text>
<text x="269.97" y="946.7" text-anchor="middle" class="t" letter-spacing="0.6">0.12</text>
<text x="329.26" y="946.7" text-anchor="middle" class="t" letter-spacing="0.6">0.16</text>
<text x="76.8" y="892.65" text-anchor="end" class="t">0.8</text>
<text x="76.8" y="832.75" text-anchor="end" class="t">1.2</text>
<text x="76.8" y="772.85" text-anchor="end" class="t">1.6</text>
<text x="76.8" y="712.95" text-anchor="end" class="t">2.0</text>
<path d="M445.24 810.25V887M442.74 810.25h5M442.74 887h5" stroke="#0c0ca8" stroke-width="1.9" fill="none"/>
<rect x="442.14" y="828.34" width="6.2" height="53.62" fill="#a2b8fb" fill-opacity="0.92" stroke="#4c5cc4" stroke-width="1.6"/>
<path d="M441.34 858.5h7.8" stroke="#0c0ca8" stroke-width="2"/>
<path d="M445.24 852.33l2.7 2.7l-2.7 2.7l-2.7 -2.7Z" fill="#0c0ca8"/>
<path d="M452.24 799.43V892.54M449.74 799.43h5M449.74 892.54h5" stroke="#e47a24" stroke-width="1.9" fill="none"/>
<rect x="449.14" y="829.09" width="6.2" height="60.4" fill="#fcc296" fill-opacity="0.92" stroke="#f0a060" stroke-width="1.6"/>
<path d="M448.34 860.07h7.8" stroke="#e47a24" stroke-width="2"/>
<path d="M452.24 857.62l2.7 2.7l-2.7 2.7l-2.7 -2.7Z" fill="#e47a24"/>
<path d="M459.14 836.61V901.55M456.64 836.61h5M456.64 901.55h5" stroke="#0c6c1a" stroke-width="1.9" fill="none"/>
<rect x="456.04" y="857.26" width="6.2" height="40.24" fill="#a8e4b8" fill-opacity="0.92" stroke="#3f9c4a" stroke-width="1.6"/>
<path d="M455.24 876.92h7.8" stroke="#0c6c1a" stroke-width="2"/>
<path d="M459.14 874.97l2.7 2.7l-2.7 2.7l-2.7 -2.7Z" fill="#0c6c1a"/>
<path d="M466.24 859.33V902.04M463.74 859.33h5M463.74 902.04h5" stroke="#d01018" stroke-width="1.9" fill="none"/>
<rect x="463.14" y="869.32" width="6.2" height="27.68" fill="#fcaaac" fill-opacity="0.92" stroke="#e2525a" stroke-width="1.6"/>
<path d="M462.34 880.64h7.8" stroke="#d01018" stroke-width="2"/>
<path d="M466.24 879.93l2.7 2.7l-2.7 2.7l-2.7 -2.7Z" fill="#d01018"/>
<path d="M474.89 815.29V888.24M472.39 815.29h5M472.39 888.24h5" stroke="#0c0ca8" stroke-width="1.9" fill="none"/>
<rect x="471.79" y="841.15" width="6.2" height="38.25" fill="#a2b8fb" fill-opacity="0.92" stroke="#4c5cc4" stroke-width="1.6"/>
<path d="M470.99 861.81h7.8" stroke="#0c0ca8" stroke-width="2"/>
<path d="M474.89 857.87l2.7 2.7l-2.7 2.7l-2.7 -2.7Z" fill="#0c0ca8"/>
<path d="M481.89 790.09V889.98M479.39 790.09h5M479.39 889.98h5" stroke="#e47a24" stroke-width="1.9" fill="none"/>
<rect x="478.79" y="838.42" width="6.2" height="47.75" fill="#fcc296" fill-opacity="0.92" stroke="#f0a060" stroke-width="1.6"/>
<path d="M477.99 861.81h7.8" stroke="#e47a24" stroke-width="2"/>
<path d="M481.89 859.27l2.7 2.7l-2.7 2.7l-2.7 -2.7Z" fill="#e47a24"/>
<path d="M488.79 837.43V898.82M486.29 837.43h5M486.29 898.82h5" stroke="#0c6c1a" stroke-width="1.9" fill="none"/>
<rect x="485.69" y="865.61" width="6.2" height="28.92" fill="#a8e4b8" fill-opacity="0.92" stroke="#3f9c4a" stroke-width="1.6"/>
<path d="M484.89 881.22h7.8" stroke="#0c6c1a" stroke-width="2"/>
<path d="M488.79 877.45l2.7 2.7l-2.7 2.7l-2.7 -2.7Z" fill="#0c6c1a"/>
<path d="M495.89 861.06V900.06M493.39 861.06h5M493.39 900.06h5" stroke="#d01018" stroke-width="1.9" fill="none"/>
<rect x="492.79" y="873.12" width="6.2" height="19.66" fill="#fcaaac" fill-opacity="0.92" stroke="#e2525a" stroke-width="1.6"/>
<path d="M491.99 881.22h7.8" stroke="#d01018" stroke-width="2"/>
<path d="M495.89 879.1l2.7 2.7l-2.7 2.7l-2.7 -2.7Z" fill="#d01018"/>
<path d="M504.53 790.59V875.69M502.03 790.59h5M502.03 875.69h5" stroke="#0c0ca8" stroke-width="1.9" fill="none"/>
<rect x="501.43" y="818.26" width="6.2" height="53.62" fill="#a2b8fb" fill-opacity="0.92" stroke="#4c5cc4" stroke-width="1.6"/>
<path d="M500.63 850.49h7.8" stroke="#0c0ca8" stroke-width="2"/>
<path d="M504.53 842.75l2.7 2.7l-2.7 2.7l-2.7 -2.7Z" fill="#0c0ca8"/>
<path d="M511.53 833.38V874.36M509.03 833.38h5M509.03 874.36h5" stroke="#e47a24" stroke-width="1.9" fill="none"/>
<rect x="508.43" y="844.7" width="6.2" height="28.42" fill="#fcc296" fill-opacity="0.92" stroke="#f0a060" stroke-width="1.6"/>
<path d="M507.63 855.03h7.8" stroke="#e47a24" stroke-width="2"/>
<path d="M511.53 854.07l2.7 2.7l-2.7 2.7l-2.7 -2.7Z" fill="#e47a24"/>
<path d="M518.43 852.47V881.96M515.93 852.47h5M515.93 881.96h5" stroke="#0c6c1a" stroke-width="1.9" fill="none"/>
<rect x="515.33" y="852.96" width="6.2" height="20.16" fill="#a8e4b8" fill-opacity="0.92" stroke="#3f9c4a" stroke-width="1.6"/>
<path d="M514.53 861.06h7.8" stroke="#0c6c1a" stroke-width="2"/>
<path d="M518.43 859.85l2.7 2.7l-2.7 2.7l-2.7 -2.7Z" fill="#0c6c1a"/>
<path d="M525.53 853.54V885.68M523.03 853.54h5M523.03 885.68h5" stroke="#d01018" stroke-width="1.9" fill="none"/>
<rect x="522.43" y="853.54" width="6.2" height="21.32" fill="#fcaaac" fill-opacity="0.92" stroke="#e2525a" stroke-width="1.6"/>
<path d="M521.63 860.57h7.8" stroke="#d01018" stroke-width="2"/>
<path d="M525.53 860.92l2.7 2.7l-2.7 2.7l-2.7 -2.7Z" fill="#d01018"/>
<path d="M534.18 778.28V884.44M531.68 778.28h5M531.68 884.44h5" stroke="#0c0ca8" stroke-width="1.9" fill="none"/>
<rect x="531.08" y="806.45" width="6.2" height="69.98" fill="#a2b8fb" fill-opacity="0.92" stroke="#4c5cc4" stroke-width="1.6"/>
<path d="M530.28 851.23h7.8" stroke="#0c0ca8" stroke-width="2"/>
<path d="M534.18 838.95l2.7 2.7l-2.7 2.7l-2.7 -2.7Z" fill="#0c0ca8"/>
<path d="M541.18 799.43V876.43M538.68 799.43h5M538.68 876.43h5" stroke="#e47a24" stroke-width="1.9" fill="none"/>
<rect x="538.08" y="828.34" width="6.2" height="44.04" fill="#fcc296" fill-opacity="0.92" stroke="#f0a060" stroke-width="1.6"/>
<path d="M537.28 856.02h7.8" stroke="#e47a24" stroke-width="2"/>
<path d="M541.18 848.53l2.7 2.7l-2.7 2.7l-2.7 -2.7Z" fill="#e47a24"/>
<path d="M548.08 816.53V884.44M545.58 816.53h5M545.58 884.44h5" stroke="#0c6c1a" stroke-width="1.9" fill="none"/>
<rect x="544.98" y="841.65" width="6.2" height="42.05" fill="#a8e4b8" fill-opacity="0.92" stroke="#3f9c4a" stroke-width="1.6"/>
<path d="M544.18 865.61h7.8" stroke="#0c6c1a" stroke-width="2"/>
<path d="M548.08 859.85l2.7 2.7l-2.7 2.7l-2.7 -2.7Z" fill="#0c6c1a"/>
<path d="M555.18 825.29V888.74M552.68 825.29h5M552.68 888.74h5" stroke="#d01018" stroke-width="1.9" fill="none"/>
<rect x="552.08" y="842.47" width="6.2" height="40.73" fill="#fcaaac" fill-opacity="0.92" stroke="#e2525a" stroke-width="1.6"/>
<path d="M551.28 862.55h7.8" stroke="#d01018" stroke-width="2"/>
<path d="M555.18 859.85l2.7 2.7l-2.7 2.7l-2.7 -2.7Z" fill="#d01018"/>
<path d="M593.47 840.41V869.82M590.97 840.41h5M590.97 869.82h5" stroke="#0c0ca8" stroke-width="1.9" fill="none"/>
<rect x="590.37" y="849.74" width="6.2" height="17.85" fill="#a2b8fb" fill-opacity="0.92" stroke="#4c5cc4" stroke-width="1.6"/>
<path d="M589.57 859.33h7.8" stroke="#0c0ca8" stroke-width="2"/>
<path d="M593.47 856.13l2.7 2.7l-2.7 2.7l-2.7 -2.7Z" fill="#0c0ca8"/>
<path d="M600.47 793.4V861.81M597.97 793.4h5M597.97 861.81h5" stroke="#e47a24" stroke-width="1.9" fill="none"/>
<rect x="597.37" y="810.25" width="6.2" height="51.56" fill="#fcc296" fill-opacity="0.92" stroke="#f0a060" stroke-width="1.6"/>
<path d="M596.57 846.69h7.8" stroke="#e47a24" stroke-width="2"/>
<path d="M600.47 833.16l2.7 2.7l-2.7 2.7l-2.7 -2.7Z" fill="#e47a24"/>
<path d="M607.37 826.61V865.11M604.87 826.61h5M604.87 865.11h5" stroke="#0c6c1a" stroke-width="1.9" fill="none"/>
<rect x="604.27" y="838.42" width="6.2" height="22.64" fill="#a8e4b8" fill-opacity="0.92" stroke="#3f9c4a" stroke-width="1.6"/>
<path d="M603.47 847.92h7.8" stroke="#0c6c1a" stroke-width="2"/>
<path d="M607.37 845.8l2.7 2.7l-2.7 2.7l-2.7 -2.7Z" fill="#0c6c1a"/>
<path d="M614.47 841.65V880.64M611.97 841.65h5M611.97 880.64h5" stroke="#d01018" stroke-width="1.9" fill="none"/>
<rect x="611.37" y="847.92" width="6.2" height="21.4" fill="#fcaaac" fill-opacity="0.92" stroke="#e2525a" stroke-width="1.6"/>
<path d="M610.57 859.33h7.8" stroke="#d01018" stroke-width="2"/>
<path d="M614.47 856.63l2.7 2.7l-2.7 2.7l-2.7 -2.7Z" fill="#d01018"/>
<path d="M652.76 692.43V837.43M650.26 692.43h5M650.26 837.43h5" stroke="#0c0ca8" stroke-width="1.9" fill="none"/>
<rect x="649.66" y="701.27" width="6.2" height="96.91" fill="#a2b8fb" fill-opacity="0.92" stroke="#4c5cc4" stroke-width="1.6"/>
<path d="M648.86 735.23h7.8" stroke="#0c0ca8" stroke-width="2"/>
<path d="M652.76 746.66l2.7 2.7l-2.7 2.7l-2.7 -2.7Z" fill="#0c0ca8"/>
<path d="M659.76 803.47V855.03M657.26 803.47h5M657.26 855.03h5" stroke="#e47a24" stroke-width="1.9" fill="none"/>
<rect x="656.66" y="817.77" width="6.2" height="34.45" fill="#fcc296" fill-opacity="0.92" stroke="#f0a060" stroke-width="1.6"/>
<path d="M655.86 837.43h7.8" stroke="#e47a24" stroke-width="2"/>
<path d="M659.76 832.17l2.7 2.7l-2.7 2.7l-2.7 -2.7Z" fill="#e47a24"/>
<path d="M666.66 809.75V870.65M664.16 809.75h5M664.16 870.65h5" stroke="#0c6c1a" stroke-width="1.9" fill="none"/>
<rect x="663.56" y="826.61" width="6.2" height="35.94" fill="#a8e4b8" fill-opacity="0.92" stroke="#3f9c4a" stroke-width="1.6"/>
<path d="M662.76 846.19h7.8" stroke="#0c6c1a" stroke-width="2"/>
<path d="M666.66 841.51l2.7 2.7l-2.7 2.7l-2.7 -2.7Z" fill="#0c6c1a"/>
<path d="M673.76 822.81V875.6M671.26 822.81h5M671.26 875.6h5" stroke="#d01018" stroke-width="1.9" fill="none"/>
<rect x="670.66" y="831.65" width="6.2" height="33.21" fill="#fcaaac" fill-opacity="0.92" stroke="#e2525a" stroke-width="1.6"/>
<path d="M669.86 847.92h7.8" stroke="#d01018" stroke-width="2"/>
<path d="M673.76 845.22l2.7 2.7l-2.7 2.7l-2.7 -2.7Z" fill="#d01018"/>
<path d="M425.7 676.15V916.5H693.25" fill="none" stroke="#000" stroke-width="1.5" stroke-linecap="butt" stroke-linejoin="miter"/>
<path d="M425.7 916.5v7.8M484.99 916.5v7.8M544.28 916.5v7.8M603.57 916.5v7.8M662.86 916.5v7.8M455.34 916.5v3.9M514.63 916.5v3.9M573.92 916.5v3.9M633.21 916.5v3.9M692.5 916.5v3.9M425.7 908.24h-7.8M425.7 866.93h-7.8M425.7 825.62h-7.8M425.7 784.31h-7.8M425.7 743h-7.8M425.7 701.69h-7.8M425.7 887.58h-3.9M425.7 846.27h-3.9M425.7 804.96h-3.9M425.7 763.65h-3.9M425.7 722.34h-3.9M425.7 681.03h-3.9" fill="none" stroke="#000" stroke-width="1.5"/>
<text x="426" y="946.7" text-anchor="middle" class="t" letter-spacing="0.6">0.00</text>
<text x="485.29" y="946.7" text-anchor="middle" class="t" letter-spacing="0.6">0.04</text>
<text x="544.58" y="946.7" text-anchor="middle" class="t" letter-spacing="0.6">0.08</text>
<text x="603.87" y="946.7" text-anchor="middle" class="t" letter-spacing="0.6">0.12</text>
<text x="663.16" y="946.7" text-anchor="middle" class="t" letter-spacing="0.6">0.16</text>
<text x="410.7" y="914.34" text-anchor="end" class="t">1.0</text>
<text x="410.7" y="873.03" text-anchor="end" class="t">1.5</text>
<text x="410.7" y="831.72" text-anchor="end" class="t">2.0</text>
<text x="410.7" y="790.41" text-anchor="end" class="t">2.5</text>
<text x="410.7" y="749.1" text-anchor="end" class="t">3.0</text>
<text x="410.7" y="707.79" text-anchor="end" class="t">3.5</text>
<path d="M783.94 869.5V903.83M781.44 869.5h5M781.44 903.83h5" stroke="#0c0ca8" stroke-width="1.9" fill="none"/>
<rect x="780.84" y="882.01" width="6.2" height="21.82" fill="#a2b8fb" fill-opacity="0.92" stroke="#4c5cc4" stroke-width="1.6"/>
<path d="M780.04 893.34h7.8" stroke="#0c0ca8" stroke-width="2"/>
<path d="M783.94 890.13l2.7 2.7l-2.7 2.7l-2.7 -2.7Z" fill="#0c0ca8"/>
<path d="M790.94 869.5V903.83M788.44 869.5h5M788.44 903.83h5" stroke="#e47a24" stroke-width="1.9" fill="none"/>
<rect x="787.84" y="882.01" width="6.2" height="21.82" fill="#fcc296" fill-opacity="0.92" stroke="#f0a060" stroke-width="1.6"/>
<path d="M787.04 893.34h7.8" stroke="#e47a24" stroke-width="2"/>
<path d="M790.94 890.13l2.7 2.7l-2.7 2.7l-2.7 -2.7Z" fill="#e47a24"/>
<path d="M797.84 870.76V903.83M795.34 870.76h5M795.34 903.83h5" stroke="#0c6c1a" stroke-width="1.9" fill="none"/>
<rect x="794.74" y="882.76" width="6.2" height="21.06" fill="#a8e4b8" fill-opacity="0.92" stroke="#3f9c4a" stroke-width="1.6"/>
<path d="M793.94 893.84h7.8" stroke="#0c6c1a" stroke-width="2"/>
<path d="M797.84 890.64l2.7 2.7l-2.7 2.7l-2.7 -2.7Z" fill="#0c6c1a"/>
<path d="M804.94 872.52V905.34M802.44 872.52h5M802.44 905.34h5" stroke="#d01018" stroke-width="1.9" fill="none"/>
<rect x="801.84" y="883.27" width="6.2" height="21.32" fill="#fcaaac" fill-opacity="0.92" stroke="#e2525a" stroke-width="1.6"/>
<path d="M801.04 894.6h7.8" stroke="#d01018" stroke-width="2"/>
<path d="M804.94 891.48l2.7 2.7l-2.7 2.7l-2.7 -2.7Z" fill="#d01018"/>
<path d="M813.59 858.93V903.32M811.09 858.93h5M811.09 903.32h5" stroke="#0c0ca8" stroke-width="1.9" fill="none"/>
<rect x="810.49" y="878.23" width="6.2" height="23.83" fill="#a2b8fb" fill-opacity="0.92" stroke="#4c5cc4" stroke-width="1.6"/>
<path d="M809.69 890.82h7.8" stroke="#0c0ca8" stroke-width="2"/>
<path d="M813.59 886.86l2.7 2.7l-2.7 2.7l-2.7 -2.7Z" fill="#0c0ca8"/>
<path d="M820.59 858.68V903.83M818.09 858.68h5M818.09 903.83h5" stroke="#e47a24" stroke-width="1.9" fill="none"/>
<rect x="817.49" y="879.49" width="6.2" height="23.83" fill="#fcc296" fill-opacity="0.92" stroke="#f0a060" stroke-width="1.6"/>
<path d="M816.69 890.82h7.8" stroke="#e47a24" stroke-width="2"/>
<path d="M820.59 887.28l2.7 2.7l-2.7 2.7l-2.7 -2.7Z" fill="#e47a24"/>
<path d="M827.49 862.71V904.58M824.99 862.71h5M824.99 904.58h5" stroke="#0c6c1a" stroke-width="1.9" fill="none"/>
<rect x="824.39" y="880.25" width="6.2" height="23.58" fill="#a8e4b8" fill-opacity="0.92" stroke="#3f9c4a" stroke-width="1.6"/>
<path d="M823.59 892.08h7.8" stroke="#0c6c1a" stroke-width="2"/>
<path d="M827.49 888.96l2.7 2.7l-2.7 2.7l-2.7 -2.7Z" fill="#0c6c1a"/>
<path d="M834.59 866.99V906.35M832.09 866.99h5M832.09 906.35h5" stroke="#d01018" stroke-width="1.9" fill="none"/>
<rect x="831.49" y="883.27" width="6.2" height="21.32" fill="#fcaaac" fill-opacity="0.92" stroke="#e2525a" stroke-width="1.6"/>
<path d="M830.69 895.85h7.8" stroke="#d01018" stroke-width="2"/>
<path d="M834.59 890.13l2.7 2.7l-2.7 2.7l-2.7 -2.7Z" fill="#d01018"/>
<path d="M843.23 853.89V901.56M840.73 853.89h5M840.73 901.56h5" stroke="#0c0ca8" stroke-width="1.9" fill="none"/>
<rect x="840.13" y="866.99" width="6.2" height="25.85" fill="#a2b8fb" fill-opacity="0.92" stroke="#4c5cc4" stroke-width="1.6"/>
<path d="M839.33 880.75h7.8" stroke="#0c0ca8" stroke-width="2"/>
<path d="M843.23 876.03l2.7 2.7l-2.7 2.7l-2.7 -2.7Z" fill="#0c0ca8"/>
<path d="M850.23 852.63V902.07M847.73 852.63h5M847.73 902.07h5" stroke="#e47a24" stroke-width="1.9" fill="none"/>
<rect x="847.13" y="866.99" width="6.2" height="27.61" fill="#fcc296" fill-opacity="0.92" stroke="#f0a060" stroke-width="1.6"/>
<path d="M846.33 882.01h7.8" stroke="#e47a24" stroke-width="2"/>
<path d="M850.23 878.89l2.7 2.7l-2.7 2.7l-2.7 -2.7Z" fill="#e47a24"/>
<path d="M857.13 853.64V902.07M854.63 853.64h5M854.63 902.07h5" stroke="#0c6c1a" stroke-width="1.9" fill="none"/>
<rect x="854.03" y="867.74" width="6.2" height="26.86" fill="#a8e4b8" fill-opacity="0.92" stroke="#3f9c4a" stroke-width="1.6"/>
<path d="M853.23 883.27h7.8" stroke="#0c6c1a" stroke-width="2"/>
<path d="M857.13 878.05l2.7 2.7l-2.7 2.7l-2.7 -2.7Z" fill="#0c6c1a"/>
<path d="M864.23 857.67V903.83M861.73 857.67h5M861.73 903.83h5" stroke="#d01018" stroke-width="1.9" fill="none"/>
<rect x="861.13" y="871.27" width="6.2" height="25.09" fill="#fcaaac" fill-opacity="0.92" stroke="#e2525a" stroke-width="1.6"/>
<path d="M860.33 885.78h7.8" stroke="#d01018" stroke-width="2"/>
<path d="M864.23 880.06l2.7 2.7l-2.7 2.7l-2.7 -2.7Z" fill="#d01018"/>
<path d="M872.88 836.86V888.81M870.38 836.86h5M870.38 888.81h5" stroke="#0c0ca8" stroke-width="1.9" fill="none"/>
<rect x="869.78" y="850.62" width="6.2" height="30.63" fill="#a2b8fb" fill-opacity="0.92" stroke="#4c5cc4" stroke-width="1.6"/>
<path d="M868.98 868.24h7.8" stroke="#0c0ca8" stroke-width="2"/>
<path d="M872.88 864.29l2.7 2.7l-2.7 2.7l-2.7 -2.7Z" fill="#0c0ca8"/>
<path d="M879.88 834.34V893.34M877.38 834.34h5M877.38 893.34h5" stroke="#e47a24" stroke-width="1.9" fill="none"/>
<rect x="876.78" y="851.88" width="6.2" height="33.9" fill="#fcc296" fill-opacity="0.92" stroke="#f0a060" stroke-width="1.6"/>
<path d="M875.98 869.5h7.8" stroke="#e47a24" stroke-width="2"/>
<path d="M879.88 866.3l2.7 2.7l-2.7 2.7l-2.7 -2.7Z" fill="#e47a24"/>
<path d="M886.78 835.6V895.85M884.28 835.6h5M884.28 895.85h5" stroke="#0c6c1a" stroke-width="1.9" fill="none"/>
<rect x="883.68" y="854.9" width="6.2" height="33.9" fill="#a8e4b8" fill-opacity="0.92" stroke="#3f9c4a" stroke-width="1.6"/>
<path d="M882.88 873.2h7.8" stroke="#0c6c1a" stroke-width="2"/>
<path d="M886.78 869.32l2.7 2.7l-2.7 2.7l-2.7 -2.7Z" fill="#0c6c1a"/>
<path d="M893.88 845.08V897.11M891.38 845.08h5M891.38 897.11h5" stroke="#d01018" stroke-width="1.9" fill="none"/>
<rect x="890.78" y="861.19" width="6.2" height="32.14" fill="#fcaaac" fill-opacity="0.92" stroke="#e2525a" stroke-width="1.6"/>
<path d="M889.98 879.49h7.8" stroke="#d01018" stroke-width="2"/>
<path d="M893.88 874.27l2.7 2.7l-2.7 2.7l-2.7 -2.7Z" fill="#d01018"/>
<path d="M932.17 790.95V876.97M929.67 790.95h5M929.67 876.97h5" stroke="#0c0ca8" stroke-width="1.9" fill="none"/>
<rect x="929.07" y="811.01" width="6.2" height="58.49" fill="#a2b8fb" fill-opacity="0.92" stroke="#4c5cc4" stroke-width="1.6"/>
<path d="M928.27 849.87h7.8" stroke="#0c0ca8" stroke-width="2"/>
<path d="M932.17 837.18l2.7 2.7l-2.7 2.7l-2.7 -2.7Z" fill="#0c0ca8"/>
<path d="M939.17 828.05V884.02M936.67 828.05h5M936.67 884.02h5" stroke="#e47a24" stroke-width="1.9" fill="none"/>
<rect x="936.07" y="839.88" width="6.2" height="33.32" fill="#fcc296" fill-opacity="0.92" stroke="#f0a060" stroke-width="1.6"/>
<path d="M935.27 860.69h7.8" stroke="#e47a24" stroke-width="2"/>
<path d="M939.17 854.21l2.7 2.7l-2.7 2.7l-2.7 -2.7Z" fill="#e47a24"/>
<path d="M946.07 828.05V884.53M943.57 828.05h5M943.57 884.53h5" stroke="#0c6c1a" stroke-width="1.9" fill="none"/>
<rect x="942.97" y="842.65" width="6.2" height="33.07" fill="#a8e4b8" fill-opacity="0.92" stroke="#3f9c4a" stroke-width="1.6"/>
<path d="M942.17 861.95h7.8" stroke="#0c6c1a" stroke-width="2"/>
<path d="M946.07 857.99l2.7 2.7l-2.7 2.7l-2.7 -2.7Z" fill="#0c6c1a"/>
<path d="M953.17 834.84V885.78M950.67 834.84h5M950.67 885.78h5" stroke="#d01018" stroke-width="1.9" fill="none"/>
<rect x="950.07" y="848.1" width="6.2" height="31.89" fill="#fcaaac" fill-opacity="0.92" stroke="#e2525a" stroke-width="1.6"/>
<path d="M949.27 869h7.8" stroke="#d01018" stroke-width="2"/>
<path d="M953.17 861.01l2.7 2.7l-2.7 2.7l-2.7 -2.7Z" fill="#d01018"/>
<path d="M991.46 689.99V844.91M988.96 689.99h5M988.96 844.91h5" stroke="#0c0ca8" stroke-width="1.9" fill="none"/>
<rect x="988.36" y="698.8" width="6.2" height="105.91" fill="#a2b8fb" fill-opacity="0.92" stroke="#4c5cc4" stroke-width="1.6"/>
<path d="M987.56 735.9h7.8" stroke="#0c0ca8" stroke-width="2"/>
<path d="M991.46 748.81l2.7 2.7l-2.7 2.7l-2.7 -2.7Z" fill="#0c0ca8"/>
<path d="M998.46 759.06V856.41M995.96 759.06h5M995.96 856.41h5" stroke="#e47a24" stroke-width="1.9" fill="none"/>
<rect x="995.36" y="777.1" width="6.2" height="59" fill="#fcc296" fill-opacity="0.92" stroke="#f0a060" stroke-width="1.6"/>
<path d="M994.56 800.43h7.8" stroke="#e47a24" stroke-width="2"/>
<path d="M998.46 804.03l2.7 2.7l-2.7 2.7l-2.7 -2.7Z" fill="#e47a24"/>
<path d="M1005.36 768.29V863.71M1002.86 768.29h5M1002.86 863.71h5" stroke="#0c6c1a" stroke-width="1.9" fill="none"/>
<rect x="1002.26" y="784.15" width="6.2" height="57.24" fill="#a8e4b8" fill-opacity="0.92" stroke="#3f9c4a" stroke-width="1.6"/>
<path d="M1001.46 806.73h7.8" stroke="#0c6c1a" stroke-width="2"/>
<path d="M1005.36 809.82l2.7 2.7l-2.7 2.7l-2.7 -2.7Z" fill="#0c6c1a"/>
<path d="M1012.46 732.21V849.87M1009.96 732.21h5M1009.96 849.87h5" stroke="#d01018" stroke-width="1.9" fill="none"/>
<rect x="1009.36" y="747.73" width="6.2" height="72.76" fill="#fcaaac" fill-opacity="0.92" stroke="#e2525a" stroke-width="1.6"/>
<path d="M1008.56 770.31h7.8" stroke="#d01018" stroke-width="2"/>
<path d="M1012.46 781.45l2.7 2.7l-2.7 2.7l-2.7 -2.7Z" fill="#d01018"/>
<path d="M764.4 676.15V916.5H1031.95" fill="none" stroke="#000" stroke-width="1.5" stroke-linecap="butt" stroke-linejoin="miter"/>
<path d="M764.4 916.5v7.8M823.69 916.5v7.8M882.98 916.5v7.8M942.27 916.5v7.8M1001.56 916.5v7.8M794.04 916.5v3.9M853.33 916.5v3.9M912.62 916.5v3.9M971.91 916.5v3.9M1031.2 916.5v3.9M764.4 882.76h-7.8M764.4 840.8h-7.8M764.4 798.84h-7.8M764.4 756.88h-7.8M764.4 714.92h-7.8M764.4 903.74h-3.9M764.4 861.78h-3.9M764.4 819.82h-3.9M764.4 777.86h-3.9M764.4 735.9h-3.9M764.4 693.94h-3.9" fill="none" stroke="#000" stroke-width="1.5"/>
<text x="764.7" y="946.7" text-anchor="middle" class="t" letter-spacing="0.6">0.00</text>
<text x="823.99" y="946.7" text-anchor="middle" class="t" letter-spacing="0.6">0.04</text>
<text x="883.28" y="946.7" text-anchor="middle" class="t" letter-spacing="0.6">0.08</text>
<text x="942.57" y="946.7" text-anchor="middle" class="t" letter-spacing="0.6">0.12</text>
<text x="1001.86" y="946.7" text-anchor="middle" class="t" letter-spacing="0.6">0.16</text>
<text x="749.4" y="888.86" text-anchor="end" class="t">1.5</text>
<text x="749.4" y="846.9" text-anchor="end" class="t">2.0</text>
<text x="749.4" y="804.94" text-anchor="end" class="t">2.5</text>
<text x="749.4" y="762.98" text-anchor="end" class="t">3.0</text>
<text x="749.4" y="721.02" text-anchor="end" class="t">3.5</text>
<rect x="782.4" y="685.6" width="123.3" height="101.3" fill="#fff" stroke="#000" stroke-width="1.1"/>
<rect x="785.2" y="691" width="44.3" height="21" fill="#a2b8fb" stroke="#4c5cc4" stroke-width="1.9"/>
<text x="834.6" y="707.6" font-size="19.1px">±SD</text>
<path d="M807.2 715.8V735.8M800.2 715.8h14M800.2 735.8h14" stroke="#0c0ca8" stroke-width="2" fill="none"/>
<text x="834.6" y="731.6" font-size="19.1px">5%-95%</text>
<path d="M793.3 749.7H820.8" stroke="#0c0ca8" stroke-width="2"/>
<text x="834.6" y="755.4" font-size="19.1px">Median</text>
<path d="M807.1 771.6l3 3l-3 3l-3 -3Z" fill="#0c0ca8"/>
<text x="834.6" y="779.2" font-size="19.1px" letter-spacing="0.3">Average</text>
</svg></body></html>
